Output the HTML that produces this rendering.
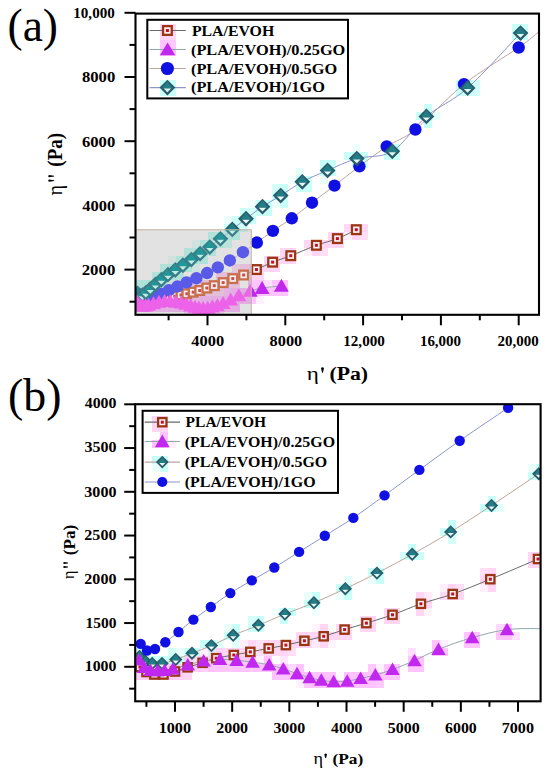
<!DOCTYPE html>
<html><head><meta charset="utf-8"><style>
html,body{margin:0;padding:0;background:#fff;}
body{width:550px;height:773px;overflow:hidden;}
svg{display:block;font-family:"Liberation Serif",serif;}
</style></head><body>
<svg width="550" height="773" viewBox="0 0 550 773">
<rect width="550" height="773" fill="#fff"/>
<rect x="135.5" y="229.3" width="115.8" height="85.5" fill="#e2e2e3"/>
<rect x="160.0" y="24.0" width="8.0" height="8.0" fill="#ffd6f4"/>
<rect x="168.0" y="24.0" width="8.0" height="8.0" fill="#ffd6f4"/>
<rect x="512.0" y="24.0" width="8.0" height="8.0" fill="#c8fff6"/>
<rect x="520.0" y="24.0" width="8.0" height="8.0" fill="#c8fff6"/>
<rect x="160.0" y="32.0" width="8.0" height="8.0" fill="#ffd6f4"/>
<rect x="168.0" y="32.0" width="8.0" height="8.0" fill="#ffd6f4"/>
<rect x="512.0" y="32.0" width="8.0" height="8.0" fill="#c8fff6"/>
<rect x="520.0" y="32.0" width="8.0" height="8.0" fill="#c8fff6"/>
<rect x="160.0" y="40.0" width="8.0" height="8.0" fill="#ffc4ff"/>
<rect x="168.0" y="40.0" width="8.0" height="8.0" fill="#ffc9ff"/>
<rect x="160.0" y="48.0" width="8.0" height="8.0" fill="#ffc4ff"/>
<rect x="168.0" y="48.0" width="8.0" height="8.0" fill="#ffc4ff"/>
<rect x="160.0" y="80.0" width="8.0" height="8.0" fill="#c8fff6"/>
<rect x="168.0" y="80.0" width="8.0" height="8.0" fill="#c8fff6"/>
<rect x="456.0" y="80.0" width="8.0" height="8.0" fill="#c8fff6"/>
<rect x="464.0" y="80.0" width="8.0" height="8.0" fill="#c8fff6"/>
<rect x="472.0" y="80.0" width="8.0" height="8.0" fill="#d4fff8"/>
<rect x="160.0" y="88.0" width="8.0" height="8.0" fill="#c8fff6"/>
<rect x="168.0" y="88.0" width="8.0" height="8.0" fill="#c8fff6"/>
<rect x="456.0" y="88.0" width="8.0" height="8.0" fill="#c8fff6"/>
<rect x="464.0" y="88.0" width="8.0" height="8.0" fill="#c8fff6"/>
<rect x="472.0" y="88.0" width="8.0" height="8.0" fill="#d4fff8"/>
<rect x="424.0" y="104.0" width="8.0" height="8.0" fill="#c8fff6"/>
<rect x="416.0" y="112.0" width="8.0" height="8.0" fill="#c8fff6"/>
<rect x="424.0" y="112.0" width="8.0" height="8.0" fill="#c8fff6"/>
<rect x="432.0" y="112.0" width="8.0" height="8.0" fill="#e2fffa"/>
<rect x="424.0" y="120.0" width="8.0" height="8.0" fill="#c8fff6"/>
<rect x="352.0" y="144.0" width="8.0" height="8.0" fill="#f1fffd"/>
<rect x="384.0" y="144.0" width="8.0" height="8.0" fill="#c8fff6"/>
<rect x="392.0" y="144.0" width="8.0" height="8.0" fill="#c8fff6"/>
<rect x="344.0" y="152.0" width="8.0" height="8.0" fill="#c8fff6"/>
<rect x="352.0" y="152.0" width="8.0" height="8.0" fill="#c8fff6"/>
<rect x="360.0" y="152.0" width="8.0" height="8.0" fill="#c8fff6"/>
<rect x="384.0" y="152.0" width="8.0" height="8.0" fill="#c8fff6"/>
<rect x="392.0" y="152.0" width="8.0" height="8.0" fill="#c8fff6"/>
<rect x="320.0" y="160.0" width="8.0" height="8.0" fill="#c8fff6"/>
<rect x="328.0" y="160.0" width="8.0" height="8.0" fill="#c8fff6"/>
<rect x="352.0" y="160.0" width="8.0" height="8.0" fill="#c8fff6"/>
<rect x="360.0" y="160.0" width="8.0" height="8.0" fill="#d4fff8"/>
<rect x="296.0" y="168.0" width="8.0" height="8.0" fill="#e2fffa"/>
<rect x="320.0" y="168.0" width="8.0" height="8.0" fill="#c8fff6"/>
<rect x="328.0" y="168.0" width="8.0" height="8.0" fill="#c8fff6"/>
<rect x="288.0" y="176.0" width="8.0" height="8.0" fill="#f1fffd"/>
<rect x="296.0" y="176.0" width="8.0" height="8.0" fill="#c8fff6"/>
<rect x="304.0" y="176.0" width="8.0" height="8.0" fill="#c8fff6"/>
<rect x="320.0" y="176.0" width="8.0" height="8.0" fill="#eafffb"/>
<rect x="272.0" y="184.0" width="8.0" height="8.0" fill="#d4fff8"/>
<rect x="280.0" y="184.0" width="8.0" height="8.0" fill="#c8fff6"/>
<rect x="296.0" y="184.0" width="8.0" height="8.0" fill="#c8fff6"/>
<rect x="304.0" y="184.0" width="8.0" height="8.0" fill="#c8fff6"/>
<rect x="272.0" y="192.0" width="8.0" height="8.0" fill="#c8fff6"/>
<rect x="280.0" y="192.0" width="8.0" height="8.0" fill="#c8fff6"/>
<rect x="248.0" y="200.0" width="3.3" height="8.0" fill="#f1fffd"/>
<rect x="251.3" y="200.0" width="4.7" height="8.0" fill="#f1fffd"/>
<rect x="256.0" y="200.0" width="8.0" height="8.0" fill="#c8fff6"/>
<rect x="264.0" y="200.0" width="8.0" height="8.0" fill="#c8fff6"/>
<rect x="272.0" y="200.0" width="8.0" height="8.0" fill="#eafffb"/>
<rect x="280.0" y="200.0" width="8.0" height="8.0" fill="#c8fff6"/>
<rect x="240.0" y="208.0" width="8.0" height="8.0" fill="#c8fff6"/>
<rect x="248.0" y="208.0" width="3.3" height="8.0" fill="#d4fff8"/>
<rect x="251.3" y="208.0" width="4.7" height="8.0" fill="#d4fff8"/>
<rect x="256.0" y="208.0" width="8.0" height="8.0" fill="#c8fff6"/>
<rect x="264.0" y="208.0" width="8.0" height="8.0" fill="#c8fff6"/>
<rect x="224.0" y="216.0" width="8.0" height="8.0" fill="#eafffb"/>
<rect x="232.0" y="216.0" width="8.0" height="8.0" fill="#cdfff7"/>
<rect x="240.0" y="216.0" width="8.0" height="8.0" fill="#c8fff6"/>
<rect x="248.0" y="216.0" width="3.3" height="8.0" fill="#c8fff6"/>
<rect x="251.3" y="216.0" width="4.7" height="8.0" fill="#c8fff6"/>
<rect x="224.0" y="224.0" width="8.0" height="5.3" fill="#c8fff6"/>
<rect x="224.0" y="229.3" width="8.0" height="2.7" fill="#b1e2da"/>
<rect x="232.0" y="224.0" width="8.0" height="5.3" fill="#c8fff6"/>
<rect x="232.0" y="229.3" width="8.0" height="2.7" fill="#b1e2da"/>
<rect x="240.0" y="224.0" width="8.0" height="5.3" fill="#d4fff8"/>
<rect x="240.0" y="229.3" width="8.0" height="2.7" fill="#bce2dc"/>
<rect x="344.0" y="224.0" width="8.0" height="5.3" fill="#ffd6f4"/>
<rect x="344.0" y="229.3" width="8.0" height="2.7" fill="#ffd6f4"/>
<rect x="352.0" y="224.0" width="8.0" height="5.3" fill="#ffd6f4"/>
<rect x="352.0" y="229.3" width="8.0" height="2.7" fill="#ffd6f4"/>
<rect x="360.0" y="224.0" width="8.0" height="5.3" fill="#ffd6f4"/>
<rect x="360.0" y="229.3" width="8.0" height="2.7" fill="#ffd6f4"/>
<rect x="208.0" y="232.0" width="8.0" height="8.0" fill="#b1e2da"/>
<rect x="216.0" y="232.0" width="8.0" height="8.0" fill="#b1e2da"/>
<rect x="224.0" y="232.0" width="8.0" height="8.0" fill="#b1e2da"/>
<rect x="232.0" y="232.0" width="8.0" height="8.0" fill="#b1e2da"/>
<rect x="328.0" y="232.0" width="8.0" height="8.0" fill="#ffd6f4"/>
<rect x="336.0" y="232.0" width="8.0" height="8.0" fill="#ffd6f4"/>
<rect x="344.0" y="232.0" width="8.0" height="8.0" fill="#ffeffb"/>
<rect x="352.0" y="232.0" width="8.0" height="8.0" fill="#ffd6f4"/>
<rect x="360.0" y="232.0" width="8.0" height="8.0" fill="#ffdff6"/>
<rect x="192.0" y="240.0" width="8.0" height="8.0" fill="#cfe2df"/>
<rect x="200.0" y="240.0" width="8.0" height="8.0" fill="#b1e2da"/>
<rect x="208.0" y="240.0" width="8.0" height="8.0" fill="#b1e2da"/>
<rect x="216.0" y="240.0" width="8.0" height="8.0" fill="#b1e2da"/>
<rect x="224.0" y="240.0" width="8.0" height="8.0" fill="#bce2dc"/>
<rect x="304.0" y="240.0" width="8.0" height="8.0" fill="#ffd6f4"/>
<rect x="312.0" y="240.0" width="8.0" height="8.0" fill="#ffd6f4"/>
<rect x="320.0" y="240.0" width="8.0" height="8.0" fill="#ffd6f4"/>
<rect x="328.0" y="240.0" width="8.0" height="8.0" fill="#ffd6f4"/>
<rect x="336.0" y="240.0" width="8.0" height="8.0" fill="#ffd6f4"/>
<rect x="184.0" y="248.0" width="8.0" height="8.0" fill="#b1e2da"/>
<rect x="192.0" y="248.0" width="8.0" height="8.0" fill="#b1e2da"/>
<rect x="200.0" y="248.0" width="8.0" height="8.0" fill="#b1e2da"/>
<rect x="208.0" y="248.0" width="8.0" height="8.0" fill="#b1e2da"/>
<rect x="280.0" y="248.0" width="8.0" height="8.0" fill="#ffd6f4"/>
<rect x="288.0" y="248.0" width="8.0" height="8.0" fill="#ffd6f4"/>
<rect x="304.0" y="248.0" width="8.0" height="8.0" fill="#ffeffb"/>
<rect x="312.0" y="248.0" width="8.0" height="8.0" fill="#ffd6f4"/>
<rect x="320.0" y="248.0" width="8.0" height="8.0" fill="#ffdff6"/>
<rect x="168.0" y="256.0" width="8.0" height="8.0" fill="#cfe2df"/>
<rect x="176.0" y="256.0" width="8.0" height="8.0" fill="#b1e2da"/>
<rect x="184.0" y="256.0" width="8.0" height="8.0" fill="#b1e2da"/>
<rect x="192.0" y="256.0" width="8.0" height="8.0" fill="#b1e2da"/>
<rect x="200.0" y="256.0" width="8.0" height="8.0" fill="#b1e2da"/>
<rect x="264.0" y="256.0" width="8.0" height="8.0" fill="#ffd6f4"/>
<rect x="272.0" y="256.0" width="8.0" height="8.0" fill="#ffd6f4"/>
<rect x="280.0" y="256.0" width="8.0" height="8.0" fill="#ffd6f4"/>
<rect x="288.0" y="256.0" width="8.0" height="8.0" fill="#ffd6f4"/>
<rect x="160.0" y="264.0" width="8.0" height="8.0" fill="#b1e2da"/>
<rect x="168.0" y="264.0" width="8.0" height="8.0" fill="#b1e2da"/>
<rect x="176.0" y="264.0" width="8.0" height="8.0" fill="#b1e2da"/>
<rect x="184.0" y="264.0" width="8.0" height="8.0" fill="#b1e2da"/>
<rect x="192.0" y="264.0" width="8.0" height="8.0" fill="#cfe2df"/>
<rect x="232.0" y="264.0" width="8.0" height="8.0" fill="#e2c6da"/>
<rect x="240.0" y="264.0" width="8.0" height="8.0" fill="#e2bed8"/>
<rect x="248.0" y="264.0" width="3.3" height="8.0" fill="#e2bed8"/>
<rect x="251.3" y="264.0" width="4.7" height="8.0" fill="#ffd6f4"/>
<rect x="256.0" y="264.0" width="8.0" height="8.0" fill="#ffd6f4"/>
<rect x="264.0" y="264.0" width="8.0" height="8.0" fill="#ffd6f4"/>
<rect x="272.0" y="264.0" width="8.0" height="8.0" fill="#ffd6f4"/>
<rect x="152.0" y="272.0" width="8.0" height="8.0" fill="#b1e2da"/>
<rect x="160.0" y="272.0" width="8.0" height="8.0" fill="#b1e2da"/>
<rect x="168.0" y="272.0" width="8.0" height="8.0" fill="#b1e2da"/>
<rect x="176.0" y="272.0" width="8.0" height="8.0" fill="#b1e2da"/>
<rect x="216.0" y="272.0" width="8.0" height="8.0" fill="#e2bed8"/>
<rect x="224.0" y="272.0" width="8.0" height="8.0" fill="#e2bed8"/>
<rect x="232.0" y="272.0" width="8.0" height="8.0" fill="#e2bed8"/>
<rect x="240.0" y="272.0" width="8.0" height="8.0" fill="#e2bed8"/>
<rect x="248.0" y="272.0" width="3.3" height="8.0" fill="#e2bed8"/>
<rect x="251.3" y="272.0" width="4.7" height="8.0" fill="#ffd6f4"/>
<rect x="256.0" y="272.0" width="8.0" height="8.0" fill="#ffd6f4"/>
<rect x="136.0" y="280.0" width="8.0" height="8.0" fill="#b1e2da"/>
<rect x="144.0" y="280.0" width="8.0" height="8.0" fill="#b1e2da"/>
<rect x="152.0" y="280.0" width="8.0" height="8.0" fill="#b1e2da"/>
<rect x="160.0" y="280.0" width="8.0" height="8.0" fill="#b1e2da"/>
<rect x="168.0" y="280.0" width="8.0" height="8.0" fill="#cfe2df"/>
<rect x="184.0" y="280.0" width="8.0" height="8.0" fill="#e2cfdd"/>
<rect x="192.0" y="280.0" width="8.0" height="8.0" fill="#e2bed8"/>
<rect x="200.0" y="280.0" width="8.0" height="8.0" fill="#e2bed8"/>
<rect x="208.0" y="280.0" width="8.0" height="8.0" fill="#e2bed8"/>
<rect x="216.0" y="280.0" width="8.0" height="8.0" fill="#e2bed8"/>
<rect x="224.0" y="280.0" width="8.0" height="8.0" fill="#e2bed8"/>
<rect x="232.0" y="280.0" width="8.0" height="8.0" fill="#e2bed8"/>
<rect x="248.0" y="280.0" width="3.3" height="8.0" fill="#e2aee2"/>
<rect x="251.3" y="280.0" width="4.7" height="8.0" fill="#ffc4ff"/>
<rect x="256.0" y="280.0" width="8.0" height="8.0" fill="#ffc4ff"/>
<rect x="264.0" y="280.0" width="8.0" height="8.0" fill="#ffe0ff"/>
<rect x="272.0" y="280.0" width="8.0" height="8.0" fill="#ffc4ff"/>
<rect x="280.0" y="280.0" width="8.0" height="8.0" fill="#ffc4ff"/>
<rect x="135.5" y="288.0" width="0.5" height="8.0" fill="#b1e2da"/>
<rect x="136.0" y="288.0" width="8.0" height="8.0" fill="#b2e1da"/>
<rect x="144.0" y="288.0" width="8.0" height="8.0" fill="#b1e2da"/>
<rect x="152.0" y="288.0" width="8.0" height="8.0" fill="#c0d7da"/>
<rect x="160.0" y="288.0" width="8.0" height="8.0" fill="#e2bdd9"/>
<rect x="168.0" y="288.0" width="8.0" height="8.0" fill="#e2bdd9"/>
<rect x="176.0" y="288.0" width="8.0" height="8.0" fill="#e2bed8"/>
<rect x="184.0" y="288.0" width="8.0" height="8.0" fill="#e2bed8"/>
<rect x="192.0" y="288.0" width="8.0" height="8.0" fill="#e2bed8"/>
<rect x="200.0" y="288.0" width="8.0" height="8.0" fill="#e2bed8"/>
<rect x="208.0" y="288.0" width="8.0" height="8.0" fill="#e2bed8"/>
<rect x="216.0" y="288.0" width="8.0" height="8.0" fill="#e2bed8"/>
<rect x="224.0" y="288.0" width="8.0" height="8.0" fill="#e2b2e2"/>
<rect x="232.0" y="288.0" width="8.0" height="8.0" fill="#e2aee2"/>
<rect x="240.0" y="288.0" width="8.0" height="8.0" fill="#e2aee2"/>
<rect x="248.0" y="288.0" width="3.3" height="8.0" fill="#e2aee2"/>
<rect x="251.3" y="288.0" width="4.7" height="8.0" fill="#ffc4ff"/>
<rect x="256.0" y="288.0" width="8.0" height="8.0" fill="#ffc4ff"/>
<rect x="264.0" y="288.0" width="8.0" height="8.0" fill="#ffc4ff"/>
<rect x="272.0" y="288.0" width="8.0" height="8.0" fill="#ffc4ff"/>
<rect x="280.0" y="288.0" width="8.0" height="8.0" fill="#ffc4ff"/>
<rect x="135.5" y="296.0" width="0.5" height="8.0" fill="#dabedc"/>
<rect x="136.0" y="296.0" width="8.0" height="8.0" fill="#d3c4dc"/>
<rect x="144.0" y="296.0" width="8.0" height="8.0" fill="#d9bfdc"/>
<rect x="152.0" y="296.0" width="8.0" height="8.0" fill="#e2b7dd"/>
<rect x="160.0" y="296.0" width="8.0" height="8.0" fill="#e2b6dd"/>
<rect x="168.0" y="296.0" width="8.0" height="8.0" fill="#e2b6dd"/>
<rect x="176.0" y="296.0" width="8.0" height="8.0" fill="#e2b5de"/>
<rect x="184.0" y="296.0" width="8.0" height="8.0" fill="#e2b4de"/>
<rect x="192.0" y="296.0" width="8.0" height="8.0" fill="#e2b5de"/>
<rect x="200.0" y="296.0" width="8.0" height="8.0" fill="#e2aee2"/>
<rect x="208.0" y="296.0" width="8.0" height="8.0" fill="#e2aee2"/>
<rect x="216.0" y="296.0" width="8.0" height="8.0" fill="#e2aee2"/>
<rect x="224.0" y="296.0" width="8.0" height="8.0" fill="#e2aee2"/>
<rect x="232.0" y="296.0" width="8.0" height="8.0" fill="#e2aee2"/>
<rect x="240.0" y="296.0" width="8.0" height="8.0" fill="#e2aee2"/>
<rect x="248.0" y="296.0" width="3.3" height="8.0" fill="#e2aee2"/>
<rect x="251.3" y="296.0" width="4.7" height="8.0" fill="#ffc4ff"/>
<rect x="256.0" y="296.0" width="8.0" height="8.0" fill="#fff0ff"/>
<rect x="135.5" y="304.0" width="0.5" height="8.0" fill="#e2b4de"/>
<rect x="136.0" y="304.0" width="8.0" height="8.0" fill="#e2b4de"/>
<rect x="144.0" y="304.0" width="8.0" height="8.0" fill="#e2b5de"/>
<rect x="152.0" y="304.0" width="8.0" height="8.0" fill="#e2b4de"/>
<rect x="160.0" y="304.0" width="8.0" height="8.0" fill="#e2b1e0"/>
<rect x="168.0" y="304.0" width="8.0" height="8.0" fill="#e2aee2"/>
<rect x="176.0" y="304.0" width="8.0" height="8.0" fill="#e2aee2"/>
<rect x="184.0" y="304.0" width="8.0" height="8.0" fill="#e2aee2"/>
<rect x="192.0" y="304.0" width="8.0" height="8.0" fill="#e2aee2"/>
<rect x="200.0" y="304.0" width="8.0" height="8.0" fill="#e2aee2"/>
<rect x="208.0" y="304.0" width="8.0" height="8.0" fill="#e2aee2"/>
<rect x="216.0" y="304.0" width="8.0" height="8.0" fill="#e2aee2"/>
<rect x="224.0" y="304.0" width="8.0" height="8.0" fill="#e2aee2"/>
<rect x="232.0" y="304.0" width="8.0" height="8.0" fill="#e2aee2"/>
<rect x="184.0" y="312.0" width="8.0" height="2.8" fill="#e2c0e2"/>
<rect x="192.0" y="312.0" width="8.0" height="2.8" fill="#e2aee2"/>
<rect x="200.0" y="312.0" width="8.0" height="2.8" fill="#e2aee2"/>
<rect x="208.0" y="312.0" width="8.0" height="2.8" fill="#e2aee2"/>
<rect x="216.0" y="312.0" width="8.0" height="2.8" fill="#e2c7e2"/>
<rect x="152.0" y="416.0" width="8.0" height="8.0" fill="#ffd6f4"/>
<rect x="160.0" y="416.0" width="8.0" height="8.0" fill="#ffd6f4"/>
<rect x="152.0" y="424.0" width="8.0" height="8.0" fill="#ffd6f4"/>
<rect x="160.0" y="424.0" width="8.0" height="8.0" fill="#ffd6f4"/>
<rect x="160.0" y="432.0" width="8.0" height="8.0" fill="#ffc4ff"/>
<rect x="152.0" y="440.0" width="8.0" height="8.0" fill="#ffc4ff"/>
<rect x="160.0" y="440.0" width="8.0" height="8.0" fill="#ffc4ff"/>
<rect x="168.0" y="440.0" width="8.0" height="8.0" fill="#fff0ff"/>
<rect x="152.0" y="456.0" width="8.0" height="8.0" fill="#c8fff6"/>
<rect x="160.0" y="456.0" width="8.0" height="8.0" fill="#c8fff6"/>
<rect x="152.0" y="464.0" width="8.0" height="8.0" fill="#eafffb"/>
<rect x="160.0" y="464.0" width="8.0" height="8.0" fill="#c8fff6"/>
<rect x="528.0" y="464.0" width="8.0" height="8.0" fill="#eafffb"/>
<rect x="536.0" y="464.0" width="4.6" height="8.0" fill="#c8fff6"/>
<rect x="528.0" y="472.0" width="8.0" height="8.0" fill="#c8fff6"/>
<rect x="536.0" y="472.0" width="4.6" height="8.0" fill="#c8fff6"/>
<rect x="488.0" y="496.0" width="8.0" height="8.0" fill="#c8fff6"/>
<rect x="480.0" y="504.0" width="8.0" height="8.0" fill="#c8fff6"/>
<rect x="488.0" y="504.0" width="8.0" height="8.0" fill="#c8fff6"/>
<rect x="496.0" y="504.0" width="8.0" height="8.0" fill="#e2fffa"/>
<rect x="448.0" y="520.0" width="8.0" height="8.0" fill="#c8fff6"/>
<rect x="440.0" y="528.0" width="8.0" height="8.0" fill="#c8fff6"/>
<rect x="448.0" y="528.0" width="8.0" height="8.0" fill="#c8fff6"/>
<rect x="456.0" y="528.0" width="8.0" height="8.0" fill="#f1fffd"/>
<rect x="448.0" y="536.0" width="8.0" height="8.0" fill="#d4fff8"/>
<rect x="408.0" y="544.0" width="8.0" height="8.0" fill="#c8fff6"/>
<rect x="400.0" y="552.0" width="8.0" height="8.0" fill="#d4fff8"/>
<rect x="408.0" y="552.0" width="8.0" height="8.0" fill="#c8fff6"/>
<rect x="416.0" y="552.0" width="8.0" height="8.0" fill="#c8fff6"/>
<rect x="528.0" y="552.0" width="8.0" height="8.0" fill="#ffd6f4"/>
<rect x="536.0" y="552.0" width="4.6" height="8.0" fill="#ffd6f4"/>
<rect x="376.0" y="560.0" width="8.0" height="8.0" fill="#f1fffd"/>
<rect x="528.0" y="560.0" width="8.0" height="8.0" fill="#ffd6f4"/>
<rect x="536.0" y="560.0" width="4.6" height="8.0" fill="#ffd6f4"/>
<rect x="368.0" y="568.0" width="8.0" height="8.0" fill="#c8fff6"/>
<rect x="376.0" y="568.0" width="8.0" height="8.0" fill="#c8fff6"/>
<rect x="480.0" y="568.0" width="8.0" height="8.0" fill="#ffdff6"/>
<rect x="488.0" y="568.0" width="8.0" height="8.0" fill="#ffd6f4"/>
<rect x="344.0" y="576.0" width="8.0" height="8.0" fill="#e2fffa"/>
<rect x="368.0" y="576.0" width="8.0" height="8.0" fill="#eafffb"/>
<rect x="376.0" y="576.0" width="8.0" height="8.0" fill="#c8fff6"/>
<rect x="480.0" y="576.0" width="8.0" height="8.0" fill="#ffd6f4"/>
<rect x="488.0" y="576.0" width="8.0" height="8.0" fill="#ffd6f4"/>
<rect x="336.0" y="584.0" width="8.0" height="8.0" fill="#c8fff6"/>
<rect x="344.0" y="584.0" width="8.0" height="8.0" fill="#c8fff6"/>
<rect x="440.0" y="584.0" width="8.0" height="8.0" fill="#ffeffb"/>
<rect x="448.0" y="584.0" width="8.0" height="8.0" fill="#ffd6f4"/>
<rect x="456.0" y="584.0" width="8.0" height="8.0" fill="#ffdff6"/>
<rect x="480.0" y="584.0" width="8.0" height="8.0" fill="#ffeffb"/>
<rect x="488.0" y="584.0" width="8.0" height="8.0" fill="#ffd6f4"/>
<rect x="304.0" y="592.0" width="8.0" height="8.0" fill="#eafffb"/>
<rect x="312.0" y="592.0" width="8.0" height="8.0" fill="#c8fff6"/>
<rect x="336.0" y="592.0" width="8.0" height="8.0" fill="#eafffb"/>
<rect x="344.0" y="592.0" width="8.0" height="8.0" fill="#c8fff6"/>
<rect x="416.0" y="592.0" width="8.0" height="8.0" fill="#ffd6f4"/>
<rect x="424.0" y="592.0" width="8.0" height="8.0" fill="#ffeaf9"/>
<rect x="440.0" y="592.0" width="8.0" height="8.0" fill="#ffdaf5"/>
<rect x="448.0" y="592.0" width="8.0" height="8.0" fill="#ffd6f4"/>
<rect x="456.0" y="592.0" width="8.0" height="8.0" fill="#ffd6f4"/>
<rect x="304.0" y="600.0" width="8.0" height="8.0" fill="#c8fff6"/>
<rect x="312.0" y="600.0" width="8.0" height="8.0" fill="#c8fff6"/>
<rect x="416.0" y="600.0" width="8.0" height="8.0" fill="#ffd6f4"/>
<rect x="424.0" y="600.0" width="8.0" height="8.0" fill="#ffd6f4"/>
<rect x="272.0" y="608.0" width="8.0" height="8.0" fill="#f1fffd"/>
<rect x="280.0" y="608.0" width="8.0" height="8.0" fill="#c8fff6"/>
<rect x="288.0" y="608.0" width="8.0" height="8.0" fill="#c8fff6"/>
<rect x="312.0" y="608.0" width="8.0" height="8.0" fill="#f1fffd"/>
<rect x="384.0" y="608.0" width="8.0" height="8.0" fill="#ffd6f4"/>
<rect x="392.0" y="608.0" width="8.0" height="8.0" fill="#ffd6f4"/>
<rect x="416.0" y="608.0" width="8.0" height="8.0" fill="#ffd6f4"/>
<rect x="424.0" y="608.0" width="8.0" height="8.0" fill="#fff4fc"/>
<rect x="248.0" y="616.0" width="3.3" height="8.0" fill="#d4fff8"/>
<rect x="251.3" y="616.0" width="4.7" height="8.0" fill="#d4fff8"/>
<rect x="256.0" y="616.0" width="8.0" height="8.0" fill="#c8fff6"/>
<rect x="280.0" y="616.0" width="8.0" height="8.0" fill="#c8fff6"/>
<rect x="360.0" y="616.0" width="8.0" height="8.0" fill="#ffd6f4"/>
<rect x="368.0" y="616.0" width="8.0" height="8.0" fill="#ffd6f4"/>
<rect x="384.0" y="616.0" width="8.0" height="8.0" fill="#ffd6f4"/>
<rect x="392.0" y="616.0" width="8.0" height="8.0" fill="#ffd6f4"/>
<rect x="224.0" y="624.0" width="8.0" height="8.0" fill="#eafffb"/>
<rect x="232.0" y="624.0" width="8.0" height="8.0" fill="#c8fff6"/>
<rect x="248.0" y="624.0" width="3.3" height="8.0" fill="#c8fff6"/>
<rect x="251.3" y="624.0" width="4.7" height="8.0" fill="#c8fff6"/>
<rect x="256.0" y="624.0" width="8.0" height="8.0" fill="#c8fff6"/>
<rect x="312.0" y="624.0" width="8.0" height="8.0" fill="#fff4fc"/>
<rect x="320.0" y="624.0" width="8.0" height="8.0" fill="#ffd6f4"/>
<rect x="336.0" y="624.0" width="8.0" height="8.0" fill="#ffd6f4"/>
<rect x="344.0" y="624.0" width="8.0" height="8.0" fill="#ffd6f4"/>
<rect x="360.0" y="624.0" width="8.0" height="8.0" fill="#ffd6f4"/>
<rect x="368.0" y="624.0" width="8.0" height="8.0" fill="#ffd6f4"/>
<rect x="496.0" y="624.0" width="8.0" height="8.0" fill="#ffd9ff"/>
<rect x="504.0" y="624.0" width="8.0" height="8.0" fill="#ffc4ff"/>
<rect x="224.0" y="632.0" width="8.0" height="8.0" fill="#c8fff6"/>
<rect x="232.0" y="632.0" width="8.0" height="8.0" fill="#c8fff6"/>
<rect x="296.0" y="632.0" width="8.0" height="8.0" fill="#ffd6f4"/>
<rect x="304.0" y="632.0" width="8.0" height="8.0" fill="#ffd6f4"/>
<rect x="312.0" y="632.0" width="8.0" height="8.0" fill="#ffd6f4"/>
<rect x="320.0" y="632.0" width="8.0" height="8.0" fill="#ffd6f4"/>
<rect x="328.0" y="632.0" width="8.0" height="8.0" fill="#ffd6f4"/>
<rect x="336.0" y="632.0" width="8.0" height="8.0" fill="#ffd6f4"/>
<rect x="344.0" y="632.0" width="8.0" height="8.0" fill="#ffd6f4"/>
<rect x="464.0" y="632.0" width="8.0" height="8.0" fill="#ffc4ff"/>
<rect x="472.0" y="632.0" width="8.0" height="8.0" fill="#ffc4ff"/>
<rect x="496.0" y="632.0" width="8.0" height="8.0" fill="#ffc4ff"/>
<rect x="504.0" y="632.0" width="8.0" height="8.0" fill="#ffc4ff"/>
<rect x="512.0" y="632.0" width="8.0" height="8.0" fill="#ffe0ff"/>
<rect x="200.0" y="640.0" width="8.0" height="8.0" fill="#c8fff6"/>
<rect x="208.0" y="640.0" width="8.0" height="8.0" fill="#c8fff6"/>
<rect x="216.0" y="640.0" width="8.0" height="8.0" fill="#e2fffa"/>
<rect x="232.0" y="640.0" width="8.0" height="8.0" fill="#e2fffa"/>
<rect x="240.0" y="640.0" width="8.0" height="8.0" fill="#ffeffb"/>
<rect x="248.0" y="640.0" width="3.3" height="8.0" fill="#ffd6f4"/>
<rect x="251.3" y="640.0" width="4.7" height="8.0" fill="#ffd6f4"/>
<rect x="256.0" y="640.0" width="8.0" height="8.0" fill="#ffe4f8"/>
<rect x="264.0" y="640.0" width="8.0" height="8.0" fill="#ffd6f4"/>
<rect x="272.0" y="640.0" width="8.0" height="8.0" fill="#ffd6f4"/>
<rect x="280.0" y="640.0" width="8.0" height="8.0" fill="#ffd6f4"/>
<rect x="288.0" y="640.0" width="8.0" height="8.0" fill="#ffd6f4"/>
<rect x="296.0" y="640.0" width="8.0" height="8.0" fill="#ffd6f4"/>
<rect x="304.0" y="640.0" width="8.0" height="8.0" fill="#ffd6f4"/>
<rect x="312.0" y="640.0" width="8.0" height="8.0" fill="#ffeaf9"/>
<rect x="320.0" y="640.0" width="8.0" height="8.0" fill="#ffd6f4"/>
<rect x="328.0" y="640.0" width="8.0" height="8.0" fill="#fff4fc"/>
<rect x="432.0" y="640.0" width="8.0" height="8.0" fill="#ffc4ff"/>
<rect x="440.0" y="640.0" width="8.0" height="8.0" fill="#fff0ff"/>
<rect x="464.0" y="640.0" width="8.0" height="8.0" fill="#ffc4ff"/>
<rect x="472.0" y="640.0" width="8.0" height="8.0" fill="#ffc4ff"/>
<rect x="135.2" y="648.0" width="0.3" height="8.0" fill="#f1fffd"/>
<rect x="135.5" y="648.0" width="0.5" height="8.0" fill="#f1fffd"/>
<rect x="136.0" y="648.0" width="8.0" height="8.0" fill="#cef8f7"/>
<rect x="144.0" y="648.0" width="8.0" height="8.0" fill="#f1fffd"/>
<rect x="168.0" y="648.0" width="8.0" height="8.0" fill="#d4fff8"/>
<rect x="176.0" y="648.0" width="8.0" height="8.0" fill="#eafffb"/>
<rect x="184.0" y="648.0" width="8.0" height="8.0" fill="#c8fff6"/>
<rect x="192.0" y="648.0" width="8.0" height="8.0" fill="#c8fff6"/>
<rect x="200.0" y="648.0" width="8.0" height="8.0" fill="#fff0ff"/>
<rect x="208.0" y="648.0" width="8.0" height="8.0" fill="#e3ebf5"/>
<rect x="216.0" y="648.0" width="8.0" height="8.0" fill="#ffd0f8"/>
<rect x="224.0" y="648.0" width="8.0" height="8.0" fill="#ffd6f4"/>
<rect x="232.0" y="648.0" width="8.0" height="8.0" fill="#ffd4f5"/>
<rect x="240.0" y="648.0" width="8.0" height="8.0" fill="#ffd6f4"/>
<rect x="248.0" y="648.0" width="3.3" height="8.0" fill="#ffd6f4"/>
<rect x="251.3" y="648.0" width="4.7" height="8.0" fill="#ffd6f4"/>
<rect x="256.0" y="648.0" width="8.0" height="8.0" fill="#ffdff6"/>
<rect x="264.0" y="648.0" width="8.0" height="8.0" fill="#ffd6f4"/>
<rect x="272.0" y="648.0" width="8.0" height="8.0" fill="#ffd6f4"/>
<rect x="280.0" y="648.0" width="8.0" height="8.0" fill="#ffd6f4"/>
<rect x="288.0" y="648.0" width="8.0" height="8.0" fill="#ffdff6"/>
<rect x="408.0" y="648.0" width="8.0" height="8.0" fill="#ffe0ff"/>
<rect x="432.0" y="648.0" width="8.0" height="8.0" fill="#ffc4ff"/>
<rect x="440.0" y="648.0" width="8.0" height="8.0" fill="#ffc4ff"/>
<rect x="135.2" y="656.0" width="0.3" height="8.0" fill="#eed9fa"/>
<rect x="135.5" y="656.0" width="0.5" height="8.0" fill="#eed9fa"/>
<rect x="136.0" y="656.0" width="8.0" height="8.0" fill="#e7e0fa"/>
<rect x="144.0" y="656.0" width="8.0" height="8.0" fill="#cdfaf7"/>
<rect x="152.0" y="656.0" width="8.0" height="8.0" fill="#c8fff6"/>
<rect x="160.0" y="656.0" width="8.0" height="8.0" fill="#c8fff6"/>
<rect x="168.0" y="656.0" width="8.0" height="8.0" fill="#cbfcf6"/>
<rect x="176.0" y="656.0" width="8.0" height="8.0" fill="#cefaf6"/>
<rect x="184.0" y="656.0" width="8.0" height="8.0" fill="#f7d3fa"/>
<rect x="192.0" y="656.0" width="8.0" height="8.0" fill="#f5dbf6"/>
<rect x="200.0" y="656.0" width="8.0" height="8.0" fill="#ffcef9"/>
<rect x="208.0" y="656.0" width="8.0" height="8.0" fill="#ffd3f6"/>
<rect x="216.0" y="656.0" width="8.0" height="8.0" fill="#ffcbfa"/>
<rect x="224.0" y="656.0" width="8.0" height="8.0" fill="#ffcff8"/>
<rect x="232.0" y="656.0" width="8.0" height="8.0" fill="#ffcafb"/>
<rect x="240.0" y="656.0" width="8.0" height="8.0" fill="#ffcafb"/>
<rect x="248.0" y="656.0" width="3.3" height="8.0" fill="#ffc7fd"/>
<rect x="251.3" y="656.0" width="4.7" height="8.0" fill="#ffc7fd"/>
<rect x="256.0" y="656.0" width="8.0" height="8.0" fill="#fff0ff"/>
<rect x="264.0" y="656.0" width="8.0" height="8.0" fill="#ffc4ff"/>
<rect x="280.0" y="656.0" width="8.0" height="8.0" fill="#ffe8ff"/>
<rect x="408.0" y="656.0" width="8.0" height="8.0" fill="#ffc4ff"/>
<rect x="416.0" y="656.0" width="8.0" height="8.0" fill="#ffc4ff"/>
<rect x="135.2" y="664.0" width="0.3" height="8.0" fill="#ffd2f6"/>
<rect x="135.5" y="664.0" width="0.5" height="8.0" fill="#ffd2f6"/>
<rect x="136.0" y="664.0" width="8.0" height="8.0" fill="#fed0f8"/>
<rect x="144.0" y="664.0" width="8.0" height="8.0" fill="#f2d8f9"/>
<rect x="152.0" y="664.0" width="8.0" height="8.0" fill="#eedbf9"/>
<rect x="160.0" y="664.0" width="8.0" height="8.0" fill="#eddcf9"/>
<rect x="168.0" y="664.0" width="8.0" height="8.0" fill="#fdcefa"/>
<rect x="176.0" y="664.0" width="8.0" height="8.0" fill="#fed2f7"/>
<rect x="184.0" y="664.0" width="8.0" height="8.0" fill="#ffcef9"/>
<rect x="192.0" y="664.0" width="8.0" height="8.0" fill="#ffcef9"/>
<rect x="200.0" y="664.0" width="8.0" height="8.0" fill="#ffcef9"/>
<rect x="208.0" y="664.0" width="8.0" height="8.0" fill="#ffc4ff"/>
<rect x="216.0" y="664.0" width="8.0" height="8.0" fill="#ffc4ff"/>
<rect x="224.0" y="664.0" width="8.0" height="8.0" fill="#ffc9ff"/>
<rect x="232.0" y="664.0" width="8.0" height="8.0" fill="#ffc4ff"/>
<rect x="240.0" y="664.0" width="8.0" height="8.0" fill="#ffc4ff"/>
<rect x="248.0" y="664.0" width="3.3" height="8.0" fill="#ffc4ff"/>
<rect x="251.3" y="664.0" width="4.7" height="8.0" fill="#ffc4ff"/>
<rect x="256.0" y="664.0" width="8.0" height="8.0" fill="#ffc4ff"/>
<rect x="264.0" y="664.0" width="8.0" height="8.0" fill="#ffc4ff"/>
<rect x="272.0" y="664.0" width="8.0" height="8.0" fill="#ffc4ff"/>
<rect x="280.0" y="664.0" width="8.0" height="8.0" fill="#ffc4ff"/>
<rect x="288.0" y="664.0" width="8.0" height="8.0" fill="#ffd9ff"/>
<rect x="296.0" y="664.0" width="8.0" height="8.0" fill="#ffc4ff"/>
<rect x="368.0" y="664.0" width="8.0" height="8.0" fill="#ffc9ff"/>
<rect x="376.0" y="664.0" width="8.0" height="8.0" fill="#fff0ff"/>
<rect x="384.0" y="664.0" width="8.0" height="8.0" fill="#ffc4ff"/>
<rect x="392.0" y="664.0" width="8.0" height="8.0" fill="#ffc4ff"/>
<rect x="408.0" y="664.0" width="8.0" height="8.0" fill="#ffc4ff"/>
<rect x="416.0" y="664.0" width="8.0" height="8.0" fill="#ffc4ff"/>
<rect x="136.0" y="672.0" width="8.0" height="8.0" fill="#ffd0f8"/>
<rect x="144.0" y="672.0" width="8.0" height="8.0" fill="#ffcff8"/>
<rect x="152.0" y="672.0" width="8.0" height="8.0" fill="#ffcff8"/>
<rect x="160.0" y="672.0" width="8.0" height="8.0" fill="#ffcff8"/>
<rect x="168.0" y="672.0" width="8.0" height="8.0" fill="#ffcff8"/>
<rect x="176.0" y="672.0" width="8.0" height="8.0" fill="#ffd2f7"/>
<rect x="184.0" y="672.0" width="8.0" height="8.0" fill="#ffd6f4"/>
<rect x="272.0" y="672.0" width="8.0" height="8.0" fill="#ffc4ff"/>
<rect x="280.0" y="672.0" width="8.0" height="8.0" fill="#ffc4ff"/>
<rect x="288.0" y="672.0" width="8.0" height="8.0" fill="#ffc4ff"/>
<rect x="296.0" y="672.0" width="8.0" height="8.0" fill="#ffc4ff"/>
<rect x="304.0" y="672.0" width="8.0" height="8.0" fill="#ffc4ff"/>
<rect x="312.0" y="672.0" width="8.0" height="8.0" fill="#ffc4ff"/>
<rect x="320.0" y="672.0" width="8.0" height="8.0" fill="#ffc4ff"/>
<rect x="328.0" y="672.0" width="8.0" height="8.0" fill="#ffc4ff"/>
<rect x="344.0" y="672.0" width="8.0" height="8.0" fill="#ffc4ff"/>
<rect x="352.0" y="672.0" width="8.0" height="8.0" fill="#ffc4ff"/>
<rect x="360.0" y="672.0" width="8.0" height="8.0" fill="#ffc4ff"/>
<rect x="368.0" y="672.0" width="8.0" height="8.0" fill="#ffc4ff"/>
<rect x="376.0" y="672.0" width="8.0" height="8.0" fill="#ffc4ff"/>
<rect x="384.0" y="672.0" width="8.0" height="8.0" fill="#ffc4ff"/>
<rect x="392.0" y="672.0" width="8.0" height="8.0" fill="#ffc4ff"/>
<rect x="296.0" y="680.0" width="8.0" height="8.0" fill="#fff0ff"/>
<rect x="304.0" y="680.0" width="8.0" height="8.0" fill="#ffc4ff"/>
<rect x="312.0" y="680.0" width="8.0" height="8.0" fill="#ffc4ff"/>
<rect x="320.0" y="680.0" width="8.0" height="8.0" fill="#ffc4ff"/>
<rect x="328.0" y="680.0" width="8.0" height="8.0" fill="#ffc4ff"/>
<rect x="336.0" y="680.0" width="8.0" height="8.0" fill="#ffc4ff"/>
<rect x="344.0" y="680.0" width="8.0" height="8.0" fill="#ffc4ff"/>
<rect x="352.0" y="680.0" width="8.0" height="8.0" fill="#ffc4ff"/>
<rect x="360.0" y="680.0" width="8.0" height="8.0" fill="#ffc4ff"/>
<rect x="368.0" y="680.0" width="8.0" height="8.0" fill="#ffc4ff"/>
<rect x="376.0" y="680.0" width="8.0" height="8.0" fill="#ffc9ff"/>
<defs>
<clipPath id="ca"><rect x="135.5" y="13.6" width="403.5" height="301.2"/></clipPath>
<clipPath id="caout"><path clip-rule="evenodd" d="M135.5,13.6 H539.0 V314.8 H135.5 Z M135.5,229.3 H251.3 V317.8 H135.5 Z"/></clipPath>
<clipPath id="cain"><rect x="135.5" y="229.3" width="115.8" height="85.5"/></clipPath>
</defs>
<g clip-path="url(#caout)">
<path d="M137.24,301.77 C137.61,302.08 138.64,303.15 139.45,303.61 C140.27,304.07 141.18,304.37 142.14,304.52 C143.11,304.68 144.07,304.71 145.24,304.52 C146.41,304.34 147.78,303.86 149.15,303.42 C150.52,302.98 151.87,302.42 153.44,301.88 C155.00,301.35 156.92,300.79 158.54,300.23 C160.16,299.68 161.40,299.02 163.17,298.55 C164.94,298.07 167.22,297.76 169.15,297.37 C171.09,296.99 172.79,296.64 174.77,296.23 C176.75,295.83 179.01,295.37 181.03,294.95 C183.05,294.53 184.86,294.20 186.88,293.74 C188.90,293.27 191.03,292.70 193.17,292.16 C195.32,291.62 197.46,291.20 199.74,290.51 C202.02,289.83 204.43,288.86 206.85,288.05 C209.27,287.25 211.55,286.57 214.27,285.67 C216.98,284.76 220.06,283.80 223.15,282.62 C226.24,281.44 229.40,279.86 232.81,278.59 C236.22,277.32 239.69,276.50 243.63,274.99 C247.56,273.49 251.58,271.70 256.42,269.56 C261.26,267.42 266.92,264.46 272.65,262.15 C278.38,259.84 283.51,258.51 290.80,255.70 C298.09,252.89 308.63,248.15 316.40,245.30 C324.17,242.45 330.75,241.20 337.40,238.60 C344.05,236.00 353.15,231.18 356.30,229.70" fill="none" stroke="#6a6a6a" stroke-width="1"/>
<path d="M136.90,301.71 C137.20,302.16 138.02,303.81 138.67,304.46 C139.32,305.10 140.06,305.34 140.81,305.56 C141.57,305.77 142.40,305.74 143.20,305.74 C143.99,305.74 144.70,305.69 145.58,305.56 C146.46,305.42 147.15,305.30 148.47,304.93 C149.79,304.57 151.77,303.89 153.50,303.37 C155.24,302.85 157.05,302.21 158.88,301.83 C160.71,301.44 162.62,301.18 164.49,301.08 C166.36,300.99 168.26,301.14 170.11,301.26 C171.95,301.38 173.70,301.58 175.55,301.80 C177.40,302.03 179.46,302.24 181.20,302.60 C182.94,302.96 184.42,303.48 186.00,303.97 C187.57,304.46 189.16,305.07 190.66,305.57 C192.15,306.06 193.56,306.55 194.94,306.91 C196.32,307.28 197.56,307.55 198.92,307.76 C200.29,307.96 201.67,308.13 203.14,308.15 C204.61,308.17 206.21,308.12 207.73,307.88 C209.26,307.63 210.69,307.11 212.29,306.69 C213.89,306.26 215.52,305.93 217.33,305.34 C219.14,304.75 220.93,304.10 223.15,303.16 C225.36,302.22 228.02,300.99 230.63,299.69 C233.24,298.38 235.52,296.76 238.80,295.31 C242.07,293.86 246.38,292.20 250.26,290.99 C254.15,289.78 256.91,288.90 262.10,288.05 C267.29,287.20 278.18,286.26 281.40,285.90" fill="none" stroke="#8fa8a8" stroke-width="1"/>
<path d="M137.07,297.92 C137.41,298.23 138.39,299.33 139.11,299.76 C139.83,300.18 140.46,300.37 141.39,300.49 C142.33,300.61 143.39,300.73 144.73,300.49 C146.06,300.24 147.69,299.65 149.39,299.02 C151.09,298.39 152.91,297.56 154.93,296.71 C156.96,295.86 159.20,295.02 161.53,293.92 C163.87,292.83 166.29,291.39 168.95,290.14 C171.62,288.90 174.59,287.77 177.52,286.48 C180.46,285.18 183.39,283.74 186.54,282.37 C189.69,280.99 192.98,279.77 196.41,278.22 C199.83,276.67 203.52,274.86 207.09,273.05 C210.66,271.23 214.05,269.43 217.84,267.33 C221.63,265.22 225.66,262.95 229.85,260.43 C234.03,257.91 238.45,255.19 242.95,252.21 C247.44,249.23 251.83,246.08 256.83,242.53 C261.82,238.97 267.09,234.90 272.92,230.86 C278.75,226.82 285.29,222.99 291.80,218.30 C298.31,213.61 304.88,208.15 312.00,202.70 C319.12,197.25 326.60,191.67 334.50,185.60 C342.40,179.53 350.70,172.82 359.40,166.30 C368.10,159.78 377.37,152.63 386.70,146.50 C396.03,140.37 402.52,139.88 415.40,129.50 C428.28,119.12 446.78,97.87 464.00,84.20 C481.22,70.53 506.37,56.12 518.70,47.50 C531.03,38.88 534.78,35.00 538.00,32.50" fill="none" stroke="#bca69c" stroke-width="1"/>
<path d="M137.48,293.30 C137.84,293.70 138.81,295.41 139.62,295.72 C140.43,296.03 141.31,295.67 142.35,295.17 C143.38,294.67 144.52,293.75 145.85,292.71 C147.18,291.67 148.75,290.32 150.34,288.93 C151.93,287.55 153.58,285.91 155.41,284.38 C157.24,282.86 159.24,281.38 161.33,279.76 C163.42,278.14 165.64,276.29 167.96,274.66 C170.29,273.04 172.78,271.57 175.28,270.00 C177.77,268.44 180.25,267.01 182.93,265.27 C185.62,263.53 188.51,261.49 191.37,259.55 C194.23,257.61 197.04,255.72 200.11,253.64 C203.19,251.56 206.42,249.55 209.81,247.07 C213.20,244.60 216.68,241.76 220.42,238.82 C224.17,235.89 228.03,232.81 232.30,229.47 C236.56,226.12 240.98,222.55 246.01,218.75 C251.04,214.96 256.69,210.54 262.48,206.68 C268.26,202.83 274.06,199.75 280.70,195.60 C287.34,191.45 294.48,186.00 302.30,181.80 C310.12,177.60 318.52,174.27 327.60,170.40 C336.68,166.53 346.02,161.78 356.80,158.60 C367.58,155.42 380.70,158.33 392.30,151.30 C403.90,144.27 413.85,126.95 426.40,116.40 C438.95,105.85 451.92,101.88 467.60,88.00 C483.28,74.12 511.68,42.25 520.50,33.10" fill="none" stroke="#8c96c8" stroke-width="1"/>
<rect x="132.89" y="297.42" width="8.70" height="8.70" fill="#fff2f6" stroke="#9a3614" stroke-width="2.30"/><rect x="135.74" y="300.27" width="3" height="3" fill="#c0102a"/>
<rect x="135.10" y="299.26" width="8.70" height="8.70" fill="#fff2f6" stroke="#9a3614" stroke-width="2.30"/><rect x="137.95" y="302.11" width="3" height="3" fill="#c0102a"/>
<rect x="137.79" y="300.17" width="8.70" height="8.70" fill="#fff2f6" stroke="#9a3614" stroke-width="2.30"/><rect x="140.64" y="303.02" width="3" height="3" fill="#c0102a"/>
<rect x="140.89" y="300.17" width="8.70" height="8.70" fill="#fff2f6" stroke="#9a3614" stroke-width="2.30"/><rect x="143.74" y="303.02" width="3" height="3" fill="#c0102a"/>
<rect x="144.80" y="299.07" width="8.70" height="8.70" fill="#fff2f6" stroke="#9a3614" stroke-width="2.30"/><rect x="147.65" y="301.92" width="3" height="3" fill="#c0102a"/>
<rect x="149.09" y="297.53" width="8.70" height="8.70" fill="#fff2f6" stroke="#9a3614" stroke-width="2.30"/><rect x="151.94" y="300.38" width="3" height="3" fill="#c0102a"/>
<rect x="154.19" y="295.88" width="8.70" height="8.70" fill="#fff2f6" stroke="#9a3614" stroke-width="2.30"/><rect x="157.04" y="298.73" width="3" height="3" fill="#c0102a"/>
<rect x="158.82" y="294.20" width="8.70" height="8.70" fill="#fff2f6" stroke="#9a3614" stroke-width="2.30"/><rect x="161.67" y="297.05" width="3" height="3" fill="#c0102a"/>
<rect x="164.80" y="293.02" width="8.70" height="8.70" fill="#fff2f6" stroke="#9a3614" stroke-width="2.30"/><rect x="167.65" y="295.87" width="3" height="3" fill="#c0102a"/>
<rect x="170.42" y="291.88" width="8.70" height="8.70" fill="#fff2f6" stroke="#9a3614" stroke-width="2.30"/><rect x="173.27" y="294.73" width="3" height="3" fill="#c0102a"/>
<rect x="176.68" y="290.60" width="8.70" height="8.70" fill="#fff2f6" stroke="#9a3614" stroke-width="2.30"/><rect x="179.53" y="293.45" width="3" height="3" fill="#c0102a"/>
<rect x="182.53" y="289.39" width="8.70" height="8.70" fill="#fff2f6" stroke="#9a3614" stroke-width="2.30"/><rect x="185.38" y="292.24" width="3" height="3" fill="#c0102a"/>
<rect x="188.82" y="287.81" width="8.70" height="8.70" fill="#fff2f6" stroke="#9a3614" stroke-width="2.30"/><rect x="191.67" y="290.66" width="3" height="3" fill="#c0102a"/>
<rect x="195.39" y="286.16" width="8.70" height="8.70" fill="#fff2f6" stroke="#9a3614" stroke-width="2.30"/><rect x="198.24" y="289.01" width="3" height="3" fill="#c0102a"/>
<rect x="202.50" y="283.70" width="8.70" height="8.70" fill="#fff2f6" stroke="#9a3614" stroke-width="2.30"/><rect x="205.35" y="286.55" width="3" height="3" fill="#c0102a"/>
<rect x="209.92" y="281.32" width="8.70" height="8.70" fill="#fff2f6" stroke="#9a3614" stroke-width="2.30"/><rect x="212.77" y="284.17" width="3" height="3" fill="#c0102a"/>
<rect x="218.80" y="278.27" width="8.70" height="8.70" fill="#fff2f6" stroke="#9a3614" stroke-width="2.30"/><rect x="221.65" y="281.12" width="3" height="3" fill="#c0102a"/>
<rect x="228.46" y="274.24" width="8.70" height="8.70" fill="#fff2f6" stroke="#9a3614" stroke-width="2.30"/><rect x="231.31" y="277.09" width="3" height="3" fill="#c0102a"/>
<rect x="239.28" y="270.64" width="8.70" height="8.70" fill="#fff2f6" stroke="#9a3614" stroke-width="2.30"/><rect x="242.13" y="273.49" width="3" height="3" fill="#c0102a"/>
<rect x="252.07" y="265.21" width="8.70" height="8.70" fill="#fff2f6" stroke="#9a3614" stroke-width="2.30"/><rect x="254.92" y="268.06" width="3" height="3" fill="#c0102a"/>
<rect x="268.30" y="257.80" width="8.70" height="8.70" fill="#fff2f6" stroke="#9a3614" stroke-width="2.30"/><rect x="271.15" y="260.65" width="3" height="3" fill="#c0102a"/>
<rect x="286.45" y="251.35" width="8.70" height="8.70" fill="#fff2f6" stroke="#9a3614" stroke-width="2.30"/><rect x="289.30" y="254.20" width="3" height="3" fill="#c0102a"/>
<rect x="312.05" y="240.95" width="8.70" height="8.70" fill="#fff2f6" stroke="#9a3614" stroke-width="2.30"/><rect x="314.90" y="243.80" width="3" height="3" fill="#c0102a"/>
<rect x="333.05" y="234.25" width="8.70" height="8.70" fill="#fff2f6" stroke="#9a3614" stroke-width="2.30"/><rect x="335.90" y="237.10" width="3" height="3" fill="#c0102a"/>
<rect x="351.95" y="225.35" width="8.70" height="8.70" fill="#fff2f6" stroke="#9a3614" stroke-width="2.30"/><rect x="354.80" y="228.20" width="3" height="3" fill="#c0102a"/>
<circle cx="137.07" cy="297.92" r="6.20" fill="#1010e2"/>
<circle cx="139.11" cy="299.76" r="6.20" fill="#1010e2"/>
<circle cx="141.39" cy="300.49" r="6.20" fill="#1010e2"/>
<circle cx="144.73" cy="300.49" r="6.20" fill="#1010e2"/>
<circle cx="149.39" cy="299.02" r="6.20" fill="#1010e2"/>
<circle cx="154.93" cy="296.71" r="6.20" fill="#1010e2"/>
<circle cx="161.53" cy="293.92" r="6.20" fill="#1010e2"/>
<circle cx="168.95" cy="290.14" r="6.20" fill="#1010e2"/>
<circle cx="177.52" cy="286.48" r="6.20" fill="#1010e2"/>
<circle cx="186.54" cy="282.37" r="6.20" fill="#1010e2"/>
<circle cx="196.41" cy="278.22" r="6.20" fill="#1010e2"/>
<circle cx="207.09" cy="273.05" r="6.20" fill="#1010e2"/>
<circle cx="217.84" cy="267.33" r="6.20" fill="#1010e2"/>
<circle cx="229.85" cy="260.43" r="6.20" fill="#1010e2"/>
<circle cx="242.95" cy="252.21" r="6.20" fill="#1010e2"/>
<circle cx="256.83" cy="242.53" r="6.20" fill="#1010e2"/>
<circle cx="272.92" cy="230.86" r="6.20" fill="#1010e2"/>
<circle cx="291.80" cy="218.30" r="6.20" fill="#1010e2"/>
<circle cx="312.00" cy="202.70" r="6.20" fill="#1010e2"/>
<circle cx="334.50" cy="185.60" r="6.20" fill="#1010e2"/>
<circle cx="359.40" cy="166.30" r="6.20" fill="#1010e2"/>
<circle cx="386.70" cy="146.50" r="6.20" fill="#1010e2"/>
<circle cx="415.40" cy="129.50" r="6.20" fill="#1010e2"/>
<circle cx="464.00" cy="84.20" r="6.20" fill="#1010e2"/>
<circle cx="518.70" cy="47.50" r="6.20" fill="#1010e2"/>
<polygon points="137.48,285.40 145.38,293.30 137.48,301.20 129.58,293.30" fill="#2c5a6a"/><polygon points="137.48,287.11 143.15,294.10 131.81,294.10" fill="#217e86"/><polygon points="133.77,294.30 141.19,294.30 137.48,298.01" fill="#e2fcf8"/>
<polygon points="139.62,287.82 147.52,295.72 139.62,303.62 131.72,295.72" fill="#2c5a6a"/><polygon points="139.62,289.54 145.29,296.52 133.95,296.52" fill="#217e86"/><polygon points="135.91,296.72 143.34,296.72 139.62,300.43" fill="#e2fcf8"/>
<polygon points="142.35,287.27 150.25,295.17 142.35,303.07 134.45,295.17" fill="#2c5a6a"/><polygon points="142.35,288.99 148.02,295.97 136.68,295.97" fill="#217e86"/><polygon points="138.63,296.17 146.06,296.17 142.35,299.88" fill="#e2fcf8"/>
<polygon points="145.85,284.81 153.75,292.71 145.85,300.61 137.95,292.71" fill="#2c5a6a"/><polygon points="145.85,286.53 151.52,293.51 140.18,293.51" fill="#217e86"/><polygon points="142.14,293.71 149.56,293.71 145.85,297.43" fill="#e2fcf8"/>
<polygon points="150.34,281.03 158.24,288.93 150.34,296.83 142.44,288.93" fill="#2c5a6a"/><polygon points="150.34,282.75 156.01,289.73 144.67,289.73" fill="#217e86"/><polygon points="146.63,289.93 154.05,289.93 150.34,293.65" fill="#e2fcf8"/>
<polygon points="155.41,276.48 163.31,284.38 155.41,292.28 147.51,284.38" fill="#2c5a6a"/><polygon points="155.41,278.20 161.08,285.18 149.74,285.18" fill="#217e86"/><polygon points="151.70,285.38 159.12,285.38 155.41,289.10" fill="#e2fcf8"/>
<polygon points="161.33,271.86 169.23,279.76 161.33,287.66 153.43,279.76" fill="#2c5a6a"/><polygon points="161.33,273.58 167.00,280.56 155.66,280.56" fill="#217e86"/><polygon points="157.62,280.76 165.04,280.76 161.33,284.47" fill="#e2fcf8"/>
<polygon points="167.96,266.76 175.86,274.66 167.96,282.56 160.06,274.66" fill="#2c5a6a"/><polygon points="167.96,268.48 173.63,275.46 162.29,275.46" fill="#217e86"/><polygon points="164.25,275.66 171.68,275.66 167.96,279.38" fill="#e2fcf8"/>
<polygon points="175.28,262.10 183.18,270.00 175.28,277.90 167.38,270.00" fill="#2c5a6a"/><polygon points="175.28,263.82 180.95,270.80 169.61,270.80" fill="#217e86"/><polygon points="171.57,271.00 178.99,271.00 175.28,274.72" fill="#e2fcf8"/>
<polygon points="182.93,257.37 190.83,265.27 182.93,273.17 175.03,265.27" fill="#2c5a6a"/><polygon points="182.93,259.09 188.60,266.07 177.26,266.07" fill="#217e86"/><polygon points="179.22,266.27 186.65,266.27 182.93,269.98" fill="#e2fcf8"/>
<polygon points="191.37,251.65 199.27,259.55 191.37,267.45 183.47,259.55" fill="#2c5a6a"/><polygon points="191.37,253.36 197.04,260.35 185.70,260.35" fill="#217e86"/><polygon points="187.66,260.55 195.08,260.55 191.37,264.26" fill="#e2fcf8"/>
<polygon points="200.11,245.74 208.01,253.64 200.11,261.54 192.21,253.64" fill="#2c5a6a"/><polygon points="200.11,247.46 205.78,254.44 194.44,254.44" fill="#217e86"/><polygon points="196.40,254.64 203.83,254.64 200.11,258.35" fill="#e2fcf8"/>
<polygon points="209.81,239.17 217.71,247.07 209.81,254.97 201.91,247.07" fill="#2c5a6a"/><polygon points="209.81,240.89 215.48,247.87 204.14,247.87" fill="#217e86"/><polygon points="206.10,248.07 213.52,248.07 209.81,251.79" fill="#e2fcf8"/>
<polygon points="220.42,230.92 228.32,238.82 220.42,246.72 212.52,238.82" fill="#2c5a6a"/><polygon points="220.42,232.64 226.09,239.62 214.75,239.62" fill="#217e86"/><polygon points="216.71,239.82 224.14,239.82 220.42,243.53" fill="#e2fcf8"/>
<polygon points="232.30,221.57 240.20,229.47 232.30,237.37 224.40,229.47" fill="#2c5a6a"/><polygon points="232.30,223.28 237.97,230.27 226.63,230.27" fill="#217e86"/><polygon points="228.59,230.47 236.01,230.47 232.30,234.18" fill="#e2fcf8"/>
<polygon points="246.01,210.85 253.91,218.75 246.01,226.65 238.11,218.75" fill="#2c5a6a"/><polygon points="246.01,212.57 251.68,219.55 240.34,219.55" fill="#217e86"/><polygon points="242.30,219.75 249.72,219.75 246.01,223.47" fill="#e2fcf8"/>
<polygon points="262.48,198.78 270.38,206.68 262.48,214.58 254.58,206.68" fill="#2c5a6a"/><polygon points="262.48,200.50 268.15,207.48 256.81,207.48" fill="#217e86"/><polygon points="258.76,207.68 266.19,207.68 262.48,211.40" fill="#e2fcf8"/>
<polygon points="280.70,187.70 288.60,195.60 280.70,203.50 272.80,195.60" fill="#2c5a6a"/><polygon points="280.70,189.42 286.37,196.40 275.03,196.40" fill="#217e86"/><polygon points="276.99,196.60 284.41,196.60 280.70,200.31" fill="#e2fcf8"/>
<polygon points="302.30,173.90 310.20,181.80 302.30,189.70 294.40,181.80" fill="#2c5a6a"/><polygon points="302.30,175.62 307.97,182.60 296.63,182.60" fill="#217e86"/><polygon points="298.59,182.80 306.01,182.80 302.30,186.51" fill="#e2fcf8"/>
<polygon points="327.60,162.50 335.50,170.40 327.60,178.30 319.70,170.40" fill="#2c5a6a"/><polygon points="327.60,164.22 333.27,171.20 321.93,171.20" fill="#217e86"/><polygon points="323.89,171.40 331.31,171.40 327.60,175.11" fill="#e2fcf8"/>
<polygon points="356.80,150.70 364.70,158.60 356.80,166.50 348.90,158.60" fill="#2c5a6a"/><polygon points="356.80,152.42 362.47,159.40 351.13,159.40" fill="#217e86"/><polygon points="353.09,159.60 360.51,159.60 356.80,163.31" fill="#e2fcf8"/>
<polygon points="392.30,143.40 400.20,151.30 392.30,159.20 384.40,151.30" fill="#2c5a6a"/><polygon points="392.30,145.12 397.97,152.10 386.63,152.10" fill="#217e86"/><polygon points="388.59,152.30 396.01,152.30 392.30,156.01" fill="#e2fcf8"/>
<polygon points="426.40,108.50 434.30,116.40 426.40,124.30 418.50,116.40" fill="#2c5a6a"/><polygon points="426.40,110.22 432.07,117.20 420.73,117.20" fill="#217e86"/><polygon points="422.69,117.40 430.11,117.40 426.40,121.11" fill="#e2fcf8"/>
<polygon points="467.60,80.10 475.50,88.00 467.60,95.90 459.70,88.00" fill="#2c5a6a"/><polygon points="467.60,81.82 473.27,88.80 461.93,88.80" fill="#217e86"/><polygon points="463.89,89.00 471.31,89.00 467.60,92.71" fill="#e2fcf8"/>
<polygon points="520.50,25.20 528.40,33.10 520.50,41.00 512.60,33.10" fill="#2c5a6a"/><polygon points="520.50,26.92 526.17,33.90 514.83,33.90" fill="#217e86"/><polygon points="516.79,34.10 524.21,34.10 520.50,37.81" fill="#e2fcf8"/>
<polygon points="136.90,294.56 129.40,307.56 144.40,307.56" fill="#c028ee"/>
<polygon points="138.67,297.31 131.17,310.31 146.17,310.31" fill="#c028ee"/>
<polygon points="140.81,298.41 133.31,311.41 148.31,311.41" fill="#c028ee"/>
<polygon points="143.20,298.59 135.70,311.59 150.70,311.59" fill="#c028ee"/>
<polygon points="145.58,298.41 138.08,311.41 153.08,311.41" fill="#c028ee"/>
<polygon points="148.47,297.78 140.97,310.78 155.97,310.78" fill="#c028ee"/>
<polygon points="153.50,296.22 146.00,309.22 161.00,309.22" fill="#c028ee"/>
<polygon points="158.88,294.68 151.38,307.68 166.38,307.68" fill="#c028ee"/>
<polygon points="164.49,293.93 156.99,306.93 171.99,306.93" fill="#c028ee"/>
<polygon points="170.11,294.11 162.61,307.11 177.61,307.11" fill="#c028ee"/>
<polygon points="175.55,294.65 168.05,307.65 183.05,307.65" fill="#c028ee"/>
<polygon points="181.20,295.45 173.70,308.45 188.70,308.45" fill="#c028ee"/>
<polygon points="186.00,296.82 178.50,309.82 193.50,309.82" fill="#c028ee"/>
<polygon points="190.66,298.42 183.16,311.42 198.16,311.42" fill="#c028ee"/>
<polygon points="194.94,299.76 187.44,312.76 202.44,312.76" fill="#c028ee"/>
<polygon points="198.92,300.61 191.42,313.61 206.42,313.61" fill="#c028ee"/>
<polygon points="203.14,301.00 195.64,314.00 210.64,314.00" fill="#c028ee"/>
<polygon points="207.73,300.73 200.23,313.73 215.23,313.73" fill="#c028ee"/>
<polygon points="212.29,299.54 204.79,312.54 219.79,312.54" fill="#c028ee"/>
<polygon points="217.33,298.19 209.83,311.19 224.83,311.19" fill="#c028ee"/>
<polygon points="223.15,296.01 215.65,309.01 230.65,309.01" fill="#c028ee"/>
<polygon points="230.63,292.54 223.13,305.54 238.13,305.54" fill="#c028ee"/>
<polygon points="238.80,288.16 231.30,301.16 246.30,301.16" fill="#c028ee"/>
<polygon points="250.26,283.84 242.76,296.84 257.76,296.84" fill="#c028ee"/>
<polygon points="262.10,280.90 254.60,293.90 269.60,293.90" fill="#c028ee"/>
<polygon points="281.40,278.75 273.90,291.75 288.90,291.75" fill="#c028ee"/>
</g>
<g clip-path="url(#cain)">
<path d="M137.24,301.77 C137.61,302.08 138.64,303.15 139.45,303.61 C140.27,304.07 141.18,304.37 142.14,304.52 C143.11,304.68 144.07,304.71 145.24,304.52 C146.41,304.34 147.78,303.86 149.15,303.42 C150.52,302.98 151.87,302.42 153.44,301.88 C155.00,301.35 156.92,300.79 158.54,300.23 C160.16,299.68 161.40,299.02 163.17,298.55 C164.94,298.07 167.22,297.76 169.15,297.37 C171.09,296.99 172.79,296.64 174.77,296.23 C176.75,295.83 179.01,295.37 181.03,294.95 C183.05,294.53 184.86,294.20 186.88,293.74 C188.90,293.27 191.03,292.70 193.17,292.16 C195.32,291.62 197.46,291.20 199.74,290.51 C202.02,289.83 204.43,288.86 206.85,288.05 C209.27,287.25 211.55,286.57 214.27,285.67 C216.98,284.76 220.06,283.80 223.15,282.62 C226.24,281.44 229.40,279.86 232.81,278.59 C236.22,277.32 239.69,276.50 243.63,274.99 C247.56,273.49 251.58,271.70 256.42,269.56 C261.26,267.42 266.92,264.46 272.65,262.15 C278.38,259.84 283.51,258.51 290.80,255.70 C298.09,252.89 308.63,248.15 316.40,245.30 C324.17,242.45 330.75,241.20 337.40,238.60 C344.05,236.00 353.15,231.18 356.30,229.70" fill="none" stroke="#a09090" stroke-width="1"/>
<path d="M136.90,301.71 C137.20,302.16 138.02,303.81 138.67,304.46 C139.32,305.10 140.06,305.34 140.81,305.56 C141.57,305.77 142.40,305.74 143.20,305.74 C143.99,305.74 144.70,305.69 145.58,305.56 C146.46,305.42 147.15,305.30 148.47,304.93 C149.79,304.57 151.77,303.89 153.50,303.37 C155.24,302.85 157.05,302.21 158.88,301.83 C160.71,301.44 162.62,301.18 164.49,301.08 C166.36,300.99 168.26,301.14 170.11,301.26 C171.95,301.38 173.70,301.58 175.55,301.80 C177.40,302.03 179.46,302.24 181.20,302.60 C182.94,302.96 184.42,303.48 186.00,303.97 C187.57,304.46 189.16,305.07 190.66,305.57 C192.15,306.06 193.56,306.55 194.94,306.91 C196.32,307.28 197.56,307.55 198.92,307.76 C200.29,307.96 201.67,308.13 203.14,308.15 C204.61,308.17 206.21,308.12 207.73,307.88 C209.26,307.63 210.69,307.11 212.29,306.69 C213.89,306.26 215.52,305.93 217.33,305.34 C219.14,304.75 220.93,304.10 223.15,303.16 C225.36,302.22 228.02,300.99 230.63,299.69 C233.24,298.38 235.52,296.76 238.80,295.31 C242.07,293.86 246.38,292.20 250.26,290.99 C254.15,289.78 256.91,288.90 262.10,288.05 C267.29,287.20 278.18,286.26 281.40,285.90" fill="none" stroke="#b0b8c0" stroke-width="1"/>
<path d="M137.07,297.92 C137.41,298.23 138.39,299.33 139.11,299.76 C139.83,300.18 140.46,300.37 141.39,300.49 C142.33,300.61 143.39,300.73 144.73,300.49 C146.06,300.24 147.69,299.65 149.39,299.02 C151.09,298.39 152.91,297.56 154.93,296.71 C156.96,295.86 159.20,295.02 161.53,293.92 C163.87,292.83 166.29,291.39 168.95,290.14 C171.62,288.90 174.59,287.77 177.52,286.48 C180.46,285.18 183.39,283.74 186.54,282.37 C189.69,280.99 192.98,279.77 196.41,278.22 C199.83,276.67 203.52,274.86 207.09,273.05 C210.66,271.23 214.05,269.43 217.84,267.33 C221.63,265.22 225.66,262.95 229.85,260.43 C234.03,257.91 238.45,255.19 242.95,252.21 C247.44,249.23 251.83,246.08 256.83,242.53 C261.82,238.97 267.09,234.90 272.92,230.86 C278.75,226.82 285.29,222.99 291.80,218.30 C298.31,213.61 304.88,208.15 312.00,202.70 C319.12,197.25 326.60,191.67 334.50,185.60 C342.40,179.53 350.70,172.82 359.40,166.30 C368.10,159.78 377.37,152.63 386.70,146.50 C396.03,140.37 402.52,139.88 415.40,129.50 C428.28,119.12 446.78,97.87 464.00,84.20 C481.22,70.53 506.37,56.12 518.70,47.50 C531.03,38.88 534.78,35.00 538.00,32.50" fill="none" stroke="#d0b8b0" stroke-width="1"/>
<path d="M137.48,293.30 C137.84,293.70 138.81,295.41 139.62,295.72 C140.43,296.03 141.31,295.67 142.35,295.17 C143.38,294.67 144.52,293.75 145.85,292.71 C147.18,291.67 148.75,290.32 150.34,288.93 C151.93,287.55 153.58,285.91 155.41,284.38 C157.24,282.86 159.24,281.38 161.33,279.76 C163.42,278.14 165.64,276.29 167.96,274.66 C170.29,273.04 172.78,271.57 175.28,270.00 C177.77,268.44 180.25,267.01 182.93,265.27 C185.62,263.53 188.51,261.49 191.37,259.55 C194.23,257.61 197.04,255.72 200.11,253.64 C203.19,251.56 206.42,249.55 209.81,247.07 C213.20,244.60 216.68,241.76 220.42,238.82 C224.17,235.89 228.03,232.81 232.30,229.47 C236.56,226.12 240.98,222.55 246.01,218.75 C251.04,214.96 256.69,210.54 262.48,206.68 C268.26,202.83 274.06,199.75 280.70,195.60 C287.34,191.45 294.48,186.00 302.30,181.80 C310.12,177.60 318.52,174.27 327.60,170.40 C336.68,166.53 346.02,161.78 356.80,158.60 C367.58,155.42 380.70,158.33 392.30,151.30 C403.90,144.27 413.85,126.95 426.40,116.40 C438.95,105.85 451.92,101.88 467.60,88.00 C483.28,74.12 511.68,42.25 520.50,33.10" fill="none" stroke="#a8aad0" stroke-width="1"/>
<rect x="132.89" y="297.42" width="8.70" height="8.70" fill="#fbeef0" stroke="#c8704e" stroke-width="2.30"/><rect x="135.74" y="300.27" width="3" height="3" fill="#c85050"/>
<rect x="135.10" y="299.26" width="8.70" height="8.70" fill="#fbeef0" stroke="#c8704e" stroke-width="2.30"/><rect x="137.95" y="302.11" width="3" height="3" fill="#c85050"/>
<rect x="137.79" y="300.17" width="8.70" height="8.70" fill="#fbeef0" stroke="#c8704e" stroke-width="2.30"/><rect x="140.64" y="303.02" width="3" height="3" fill="#c85050"/>
<rect x="140.89" y="300.17" width="8.70" height="8.70" fill="#fbeef0" stroke="#c8704e" stroke-width="2.30"/><rect x="143.74" y="303.02" width="3" height="3" fill="#c85050"/>
<rect x="144.80" y="299.07" width="8.70" height="8.70" fill="#fbeef0" stroke="#c8704e" stroke-width="2.30"/><rect x="147.65" y="301.92" width="3" height="3" fill="#c85050"/>
<rect x="149.09" y="297.53" width="8.70" height="8.70" fill="#fbeef0" stroke="#c8704e" stroke-width="2.30"/><rect x="151.94" y="300.38" width="3" height="3" fill="#c85050"/>
<rect x="154.19" y="295.88" width="8.70" height="8.70" fill="#fbeef0" stroke="#c8704e" stroke-width="2.30"/><rect x="157.04" y="298.73" width="3" height="3" fill="#c85050"/>
<rect x="158.82" y="294.20" width="8.70" height="8.70" fill="#fbeef0" stroke="#c8704e" stroke-width="2.30"/><rect x="161.67" y="297.05" width="3" height="3" fill="#c85050"/>
<rect x="164.80" y="293.02" width="8.70" height="8.70" fill="#fbeef0" stroke="#c8704e" stroke-width="2.30"/><rect x="167.65" y="295.87" width="3" height="3" fill="#c85050"/>
<rect x="170.42" y="291.88" width="8.70" height="8.70" fill="#fbeef0" stroke="#c8704e" stroke-width="2.30"/><rect x="173.27" y="294.73" width="3" height="3" fill="#c85050"/>
<rect x="176.68" y="290.60" width="8.70" height="8.70" fill="#fbeef0" stroke="#c8704e" stroke-width="2.30"/><rect x="179.53" y="293.45" width="3" height="3" fill="#c85050"/>
<rect x="182.53" y="289.39" width="8.70" height="8.70" fill="#fbeef0" stroke="#c8704e" stroke-width="2.30"/><rect x="185.38" y="292.24" width="3" height="3" fill="#c85050"/>
<rect x="188.82" y="287.81" width="8.70" height="8.70" fill="#fbeef0" stroke="#c8704e" stroke-width="2.30"/><rect x="191.67" y="290.66" width="3" height="3" fill="#c85050"/>
<rect x="195.39" y="286.16" width="8.70" height="8.70" fill="#fbeef0" stroke="#c8704e" stroke-width="2.30"/><rect x="198.24" y="289.01" width="3" height="3" fill="#c85050"/>
<rect x="202.50" y="283.70" width="8.70" height="8.70" fill="#fbeef0" stroke="#c8704e" stroke-width="2.30"/><rect x="205.35" y="286.55" width="3" height="3" fill="#c85050"/>
<rect x="209.92" y="281.32" width="8.70" height="8.70" fill="#fbeef0" stroke="#c8704e" stroke-width="2.30"/><rect x="212.77" y="284.17" width="3" height="3" fill="#c85050"/>
<rect x="218.80" y="278.27" width="8.70" height="8.70" fill="#fbeef0" stroke="#c8704e" stroke-width="2.30"/><rect x="221.65" y="281.12" width="3" height="3" fill="#c85050"/>
<rect x="228.46" y="274.24" width="8.70" height="8.70" fill="#fbeef0" stroke="#c8704e" stroke-width="2.30"/><rect x="231.31" y="277.09" width="3" height="3" fill="#c85050"/>
<rect x="239.28" y="270.64" width="8.70" height="8.70" fill="#fbeef0" stroke="#c8704e" stroke-width="2.30"/><rect x="242.13" y="273.49" width="3" height="3" fill="#c85050"/>
<rect x="252.07" y="265.21" width="8.70" height="8.70" fill="#fbeef0" stroke="#c8704e" stroke-width="2.30"/><rect x="254.92" y="268.06" width="3" height="3" fill="#c85050"/>
<rect x="268.30" y="257.80" width="8.70" height="8.70" fill="#fbeef0" stroke="#c8704e" stroke-width="2.30"/><rect x="271.15" y="260.65" width="3" height="3" fill="#c85050"/>
<rect x="286.45" y="251.35" width="8.70" height="8.70" fill="#fbeef0" stroke="#c8704e" stroke-width="2.30"/><rect x="289.30" y="254.20" width="3" height="3" fill="#c85050"/>
<rect x="312.05" y="240.95" width="8.70" height="8.70" fill="#fbeef0" stroke="#c8704e" stroke-width="2.30"/><rect x="314.90" y="243.80" width="3" height="3" fill="#c85050"/>
<rect x="333.05" y="234.25" width="8.70" height="8.70" fill="#fbeef0" stroke="#c8704e" stroke-width="2.30"/><rect x="335.90" y="237.10" width="3" height="3" fill="#c85050"/>
<rect x="351.95" y="225.35" width="8.70" height="8.70" fill="#fbeef0" stroke="#c8704e" stroke-width="2.30"/><rect x="354.80" y="228.20" width="3" height="3" fill="#c85050"/>
<circle cx="137.07" cy="297.92" r="6.20" fill="#5a5ae8"/>
<circle cx="139.11" cy="299.76" r="6.20" fill="#5a5ae8"/>
<circle cx="141.39" cy="300.49" r="6.20" fill="#5a5ae8"/>
<circle cx="144.73" cy="300.49" r="6.20" fill="#5a5ae8"/>
<circle cx="149.39" cy="299.02" r="6.20" fill="#5a5ae8"/>
<circle cx="154.93" cy="296.71" r="6.20" fill="#5a5ae8"/>
<circle cx="161.53" cy="293.92" r="6.20" fill="#5a5ae8"/>
<circle cx="168.95" cy="290.14" r="6.20" fill="#5a5ae8"/>
<circle cx="177.52" cy="286.48" r="6.20" fill="#5a5ae8"/>
<circle cx="186.54" cy="282.37" r="6.20" fill="#5a5ae8"/>
<circle cx="196.41" cy="278.22" r="6.20" fill="#5a5ae8"/>
<circle cx="207.09" cy="273.05" r="6.20" fill="#5a5ae8"/>
<circle cx="217.84" cy="267.33" r="6.20" fill="#5a5ae8"/>
<circle cx="229.85" cy="260.43" r="6.20" fill="#5a5ae8"/>
<circle cx="242.95" cy="252.21" r="6.20" fill="#5a5ae8"/>
<circle cx="256.83" cy="242.53" r="6.20" fill="#5a5ae8"/>
<circle cx="272.92" cy="230.86" r="6.20" fill="#5a5ae8"/>
<circle cx="291.80" cy="218.30" r="6.20" fill="#5a5ae8"/>
<circle cx="312.00" cy="202.70" r="6.20" fill="#5a5ae8"/>
<circle cx="334.50" cy="185.60" r="6.20" fill="#5a5ae8"/>
<circle cx="359.40" cy="166.30" r="6.20" fill="#5a5ae8"/>
<circle cx="386.70" cy="146.50" r="6.20" fill="#5a5ae8"/>
<circle cx="415.40" cy="129.50" r="6.20" fill="#5a5ae8"/>
<circle cx="464.00" cy="84.20" r="6.20" fill="#5a5ae8"/>
<circle cx="518.70" cy="47.50" r="6.20" fill="#5a5ae8"/>
<polygon points="137.48,285.40 145.38,293.30 137.48,301.20 129.58,293.30" fill="#3a7c88"/><polygon points="137.48,287.11 143.15,294.10 131.81,294.10" fill="#1e9898"/><polygon points="133.77,294.30 141.19,294.30 137.48,298.01" fill="#b8f0e6"/>
<polygon points="139.62,287.82 147.52,295.72 139.62,303.62 131.72,295.72" fill="#3a7c88"/><polygon points="139.62,289.54 145.29,296.52 133.95,296.52" fill="#1e9898"/><polygon points="135.91,296.72 143.34,296.72 139.62,300.43" fill="#b8f0e6"/>
<polygon points="142.35,287.27 150.25,295.17 142.35,303.07 134.45,295.17" fill="#3a7c88"/><polygon points="142.35,288.99 148.02,295.97 136.68,295.97" fill="#1e9898"/><polygon points="138.63,296.17 146.06,296.17 142.35,299.88" fill="#b8f0e6"/>
<polygon points="145.85,284.81 153.75,292.71 145.85,300.61 137.95,292.71" fill="#3a7c88"/><polygon points="145.85,286.53 151.52,293.51 140.18,293.51" fill="#1e9898"/><polygon points="142.14,293.71 149.56,293.71 145.85,297.43" fill="#b8f0e6"/>
<polygon points="150.34,281.03 158.24,288.93 150.34,296.83 142.44,288.93" fill="#3a7c88"/><polygon points="150.34,282.75 156.01,289.73 144.67,289.73" fill="#1e9898"/><polygon points="146.63,289.93 154.05,289.93 150.34,293.65" fill="#b8f0e6"/>
<polygon points="155.41,276.48 163.31,284.38 155.41,292.28 147.51,284.38" fill="#3a7c88"/><polygon points="155.41,278.20 161.08,285.18 149.74,285.18" fill="#1e9898"/><polygon points="151.70,285.38 159.12,285.38 155.41,289.10" fill="#b8f0e6"/>
<polygon points="161.33,271.86 169.23,279.76 161.33,287.66 153.43,279.76" fill="#3a7c88"/><polygon points="161.33,273.58 167.00,280.56 155.66,280.56" fill="#1e9898"/><polygon points="157.62,280.76 165.04,280.76 161.33,284.47" fill="#b8f0e6"/>
<polygon points="167.96,266.76 175.86,274.66 167.96,282.56 160.06,274.66" fill="#3a7c88"/><polygon points="167.96,268.48 173.63,275.46 162.29,275.46" fill="#1e9898"/><polygon points="164.25,275.66 171.68,275.66 167.96,279.38" fill="#b8f0e6"/>
<polygon points="175.28,262.10 183.18,270.00 175.28,277.90 167.38,270.00" fill="#3a7c88"/><polygon points="175.28,263.82 180.95,270.80 169.61,270.80" fill="#1e9898"/><polygon points="171.57,271.00 178.99,271.00 175.28,274.72" fill="#b8f0e6"/>
<polygon points="182.93,257.37 190.83,265.27 182.93,273.17 175.03,265.27" fill="#3a7c88"/><polygon points="182.93,259.09 188.60,266.07 177.26,266.07" fill="#1e9898"/><polygon points="179.22,266.27 186.65,266.27 182.93,269.98" fill="#b8f0e6"/>
<polygon points="191.37,251.65 199.27,259.55 191.37,267.45 183.47,259.55" fill="#3a7c88"/><polygon points="191.37,253.36 197.04,260.35 185.70,260.35" fill="#1e9898"/><polygon points="187.66,260.55 195.08,260.55 191.37,264.26" fill="#b8f0e6"/>
<polygon points="200.11,245.74 208.01,253.64 200.11,261.54 192.21,253.64" fill="#3a7c88"/><polygon points="200.11,247.46 205.78,254.44 194.44,254.44" fill="#1e9898"/><polygon points="196.40,254.64 203.83,254.64 200.11,258.35" fill="#b8f0e6"/>
<polygon points="209.81,239.17 217.71,247.07 209.81,254.97 201.91,247.07" fill="#3a7c88"/><polygon points="209.81,240.89 215.48,247.87 204.14,247.87" fill="#1e9898"/><polygon points="206.10,248.07 213.52,248.07 209.81,251.79" fill="#b8f0e6"/>
<polygon points="220.42,230.92 228.32,238.82 220.42,246.72 212.52,238.82" fill="#3a7c88"/><polygon points="220.42,232.64 226.09,239.62 214.75,239.62" fill="#1e9898"/><polygon points="216.71,239.82 224.14,239.82 220.42,243.53" fill="#b8f0e6"/>
<polygon points="232.30,221.57 240.20,229.47 232.30,237.37 224.40,229.47" fill="#3a7c88"/><polygon points="232.30,223.28 237.97,230.27 226.63,230.27" fill="#1e9898"/><polygon points="228.59,230.47 236.01,230.47 232.30,234.18" fill="#b8f0e6"/>
<polygon points="246.01,210.85 253.91,218.75 246.01,226.65 238.11,218.75" fill="#3a7c88"/><polygon points="246.01,212.57 251.68,219.55 240.34,219.55" fill="#1e9898"/><polygon points="242.30,219.75 249.72,219.75 246.01,223.47" fill="#b8f0e6"/>
<polygon points="262.48,198.78 270.38,206.68 262.48,214.58 254.58,206.68" fill="#3a7c88"/><polygon points="262.48,200.50 268.15,207.48 256.81,207.48" fill="#1e9898"/><polygon points="258.76,207.68 266.19,207.68 262.48,211.40" fill="#b8f0e6"/>
<polygon points="280.70,187.70 288.60,195.60 280.70,203.50 272.80,195.60" fill="#3a7c88"/><polygon points="280.70,189.42 286.37,196.40 275.03,196.40" fill="#1e9898"/><polygon points="276.99,196.60 284.41,196.60 280.70,200.31" fill="#b8f0e6"/>
<polygon points="302.30,173.90 310.20,181.80 302.30,189.70 294.40,181.80" fill="#3a7c88"/><polygon points="302.30,175.62 307.97,182.60 296.63,182.60" fill="#1e9898"/><polygon points="298.59,182.80 306.01,182.80 302.30,186.51" fill="#b8f0e6"/>
<polygon points="327.60,162.50 335.50,170.40 327.60,178.30 319.70,170.40" fill="#3a7c88"/><polygon points="327.60,164.22 333.27,171.20 321.93,171.20" fill="#1e9898"/><polygon points="323.89,171.40 331.31,171.40 327.60,175.11" fill="#b8f0e6"/>
<polygon points="356.80,150.70 364.70,158.60 356.80,166.50 348.90,158.60" fill="#3a7c88"/><polygon points="356.80,152.42 362.47,159.40 351.13,159.40" fill="#1e9898"/><polygon points="353.09,159.60 360.51,159.60 356.80,163.31" fill="#b8f0e6"/>
<polygon points="392.30,143.40 400.20,151.30 392.30,159.20 384.40,151.30" fill="#3a7c88"/><polygon points="392.30,145.12 397.97,152.10 386.63,152.10" fill="#1e9898"/><polygon points="388.59,152.30 396.01,152.30 392.30,156.01" fill="#b8f0e6"/>
<polygon points="426.40,108.50 434.30,116.40 426.40,124.30 418.50,116.40" fill="#3a7c88"/><polygon points="426.40,110.22 432.07,117.20 420.73,117.20" fill="#1e9898"/><polygon points="422.69,117.40 430.11,117.40 426.40,121.11" fill="#b8f0e6"/>
<polygon points="467.60,80.10 475.50,88.00 467.60,95.90 459.70,88.00" fill="#3a7c88"/><polygon points="467.60,81.82 473.27,88.80 461.93,88.80" fill="#1e9898"/><polygon points="463.89,89.00 471.31,89.00 467.60,92.71" fill="#b8f0e6"/>
<polygon points="520.50,25.20 528.40,33.10 520.50,41.00 512.60,33.10" fill="#3a7c88"/><polygon points="520.50,26.92 526.17,33.90 514.83,33.90" fill="#1e9898"/><polygon points="516.79,34.10 524.21,34.10 520.50,37.81" fill="#b8f0e6"/>
<polygon points="136.90,294.56 129.40,307.56 144.40,307.56" fill="#ec62e8"/>
<polygon points="138.67,297.31 131.17,310.31 146.17,310.31" fill="#ec62e8"/>
<polygon points="140.81,298.41 133.31,311.41 148.31,311.41" fill="#ec62e8"/>
<polygon points="143.20,298.59 135.70,311.59 150.70,311.59" fill="#ec62e8"/>
<polygon points="145.58,298.41 138.08,311.41 153.08,311.41" fill="#ec62e8"/>
<polygon points="148.47,297.78 140.97,310.78 155.97,310.78" fill="#ec62e8"/>
<polygon points="153.50,296.22 146.00,309.22 161.00,309.22" fill="#ec62e8"/>
<polygon points="158.88,294.68 151.38,307.68 166.38,307.68" fill="#ec62e8"/>
<polygon points="164.49,293.93 156.99,306.93 171.99,306.93" fill="#ec62e8"/>
<polygon points="170.11,294.11 162.61,307.11 177.61,307.11" fill="#ec62e8"/>
<polygon points="175.55,294.65 168.05,307.65 183.05,307.65" fill="#ec62e8"/>
<polygon points="181.20,295.45 173.70,308.45 188.70,308.45" fill="#ec62e8"/>
<polygon points="186.00,296.82 178.50,309.82 193.50,309.82" fill="#ec62e8"/>
<polygon points="190.66,298.42 183.16,311.42 198.16,311.42" fill="#ec62e8"/>
<polygon points="194.94,299.76 187.44,312.76 202.44,312.76" fill="#ec62e8"/>
<polygon points="198.92,300.61 191.42,313.61 206.42,313.61" fill="#ec62e8"/>
<polygon points="203.14,301.00 195.64,314.00 210.64,314.00" fill="#ec62e8"/>
<polygon points="207.73,300.73 200.23,313.73 215.23,313.73" fill="#ec62e8"/>
<polygon points="212.29,299.54 204.79,312.54 219.79,312.54" fill="#ec62e8"/>
<polygon points="217.33,298.19 209.83,311.19 224.83,311.19" fill="#ec62e8"/>
<polygon points="223.15,296.01 215.65,309.01 230.65,309.01" fill="#ec62e8"/>
<polygon points="230.63,292.54 223.13,305.54 238.13,305.54" fill="#ec62e8"/>
<polygon points="238.80,288.16 231.30,301.16 246.30,301.16" fill="#ec62e8"/>
<polygon points="250.26,283.84 242.76,296.84 257.76,296.84" fill="#ec62e8"/>
<polygon points="262.10,280.90 254.60,293.90 269.60,293.90" fill="#ec62e8"/>
<polygon points="281.40,278.75 273.90,291.75 288.90,291.75" fill="#ec62e8"/>
</g>
<path d="M135.5,229.8 H251.3 V314.8" fill="none" stroke="#c4b4a4" stroke-width="1"/>
<rect x="135.5" y="13.6" width="403.5" height="301.2" fill="none" stroke="#000" stroke-width="2.1"/>
<line x1="129.5" y1="301.70" x2="135.5" y2="301.70" stroke="#000" stroke-width="2"/>
<line x1="124.5" y1="269.60" x2="135.5" y2="269.60" stroke="#000" stroke-width="2"/>
<line x1="129.5" y1="237.50" x2="135.5" y2="237.50" stroke="#000" stroke-width="2"/>
<line x1="124.5" y1="205.40" x2="135.5" y2="205.40" stroke="#000" stroke-width="2"/>
<line x1="129.5" y1="173.30" x2="135.5" y2="173.30" stroke="#000" stroke-width="2"/>
<line x1="124.5" y1="141.20" x2="135.5" y2="141.20" stroke="#000" stroke-width="2"/>
<line x1="129.5" y1="109.10" x2="135.5" y2="109.10" stroke="#000" stroke-width="2"/>
<line x1="124.5" y1="77.00" x2="135.5" y2="77.00" stroke="#000" stroke-width="2"/>
<line x1="129.5" y1="44.90" x2="135.5" y2="44.90" stroke="#000" stroke-width="2"/>
<line x1="124.5" y1="12.80" x2="135.5" y2="12.80" stroke="#000" stroke-width="2"/>
<text transform="translate(73.29,18.18) scale(0.9866,1)" font-size="15.30" font-weight="bold" xml:space="preserve">10,000</text>
<text transform="translate(81.90,82.28) scale(1.0905,1)" font-size="15.30" font-weight="bold" xml:space="preserve">8000</text>
<text transform="translate(81.90,147.03) scale(1.0905,1)" font-size="15.30" font-weight="bold" xml:space="preserve">6000</text>
<text transform="translate(82.23,211.03) scale(1.0793,1)" font-size="15.30" font-weight="bold" xml:space="preserve">4000</text>
<text transform="translate(81.73,275.13) scale(1.0961,1)" font-size="15.30" font-weight="bold" xml:space="preserve">2000</text>
<line x1="168.60" y1="314.8" x2="168.60" y2="320.3" stroke="#000" stroke-width="2"/>
<line x1="207.50" y1="314.8" x2="207.50" y2="325.3" stroke="#000" stroke-width="2"/>
<line x1="246.40" y1="314.8" x2="246.40" y2="320.3" stroke="#000" stroke-width="2"/>
<line x1="285.30" y1="314.8" x2="285.30" y2="325.3" stroke="#000" stroke-width="2"/>
<line x1="324.20" y1="314.8" x2="324.20" y2="320.3" stroke="#000" stroke-width="2"/>
<line x1="363.10" y1="314.8" x2="363.10" y2="325.3" stroke="#000" stroke-width="2"/>
<line x1="402.00" y1="314.8" x2="402.00" y2="320.3" stroke="#000" stroke-width="2"/>
<line x1="440.90" y1="314.8" x2="440.90" y2="325.3" stroke="#000" stroke-width="2"/>
<line x1="479.80" y1="314.8" x2="479.80" y2="320.3" stroke="#000" stroke-width="2"/>
<line x1="518.70" y1="314.8" x2="518.70" y2="325.3" stroke="#000" stroke-width="2"/>
<text transform="translate(191.34,345.53) scale(1.0726,1)" font-size="15.30" font-weight="bold" xml:space="preserve">4000</text>
<text transform="translate(269.61,345.53) scale(1.0667,1)" font-size="15.30" font-weight="bold" xml:space="preserve">8000</text>
<text transform="translate(343.19,345.53) scale(0.9916,1)" font-size="15.30" font-weight="bold" xml:space="preserve">12,000</text>
<text transform="translate(419.90,345.53) scale(0.9791,1)" font-size="15.30" font-weight="bold" xml:space="preserve">16,000</text>
<text transform="translate(497.60,345.53) scale(0.9767,1)" font-size="15.30" font-weight="bold" xml:space="preserve">20,000</text>
<text transform="translate(306.74,379.80) scale(1.1852,1)" font-size="19.50" font-weight="normal" xml:space="preserve">&#951;</text>
<path d="M321.00,368.10 Q322.50,366.50 324.00,368.10 L322.95,372.70 L322.05,372.70 Z" fill="#000"/>
<text transform="translate(329.43,380.30) scale(1.1899,1)" font-size="18.30" font-weight="bold" xml:space="preserve">(Pa)</text>
<text transform="translate(62.10,166.66) rotate(-90) scale(0.9160,1.0000)" font-size="20.80" font-weight="bold" xml:space="preserve">(Pa)</text>
<path d="M48.90,175.00 Q47.30,176.15 48.90,177.30 L54.20,176.60 L54.20,175.70 Z" fill="#000"/>
<path d="M48.90,179.40 Q47.30,180.60 48.90,181.80 L54.20,181.05 L54.20,180.15 Z" fill="#000"/>
<text transform="translate(61.80,195.40) rotate(-90) scale(0.9630,1.0000)" font-size="21.00" font-weight="normal" xml:space="preserve">&#951;</text>
<text transform="translate(7.48,40.60) scale(0.9792,1)" font-size="46.50" font-weight="normal" xml:space="preserve">(a)</text>
<rect x="147.3" y="19.8" width="200.7" height="78.6" fill="none" stroke="#000" stroke-width="2"/>
<line x1="149.5" y1="30.5" x2="185.8" y2="30.5" stroke="#6a6a6a" stroke-width="1.2"/>
<line x1="149.5" y1="49.5" x2="185.8" y2="49.5" stroke="#8fa8a8" stroke-width="1.2"/>
<line x1="149.5" y1="68.5" x2="185.8" y2="68.5" stroke="#bca69c" stroke-width="1.2"/>
<line x1="149.5" y1="87.6" x2="185.8" y2="87.6" stroke="#8c96c8" stroke-width="1.2"/>
<rect x="163.05" y="26.15" width="8.70" height="8.70" fill="#fff2f6" stroke="#9a3614" stroke-width="2.30"/><rect x="165.90" y="29.00" width="3" height="3" fill="#c0102a"/>
<polygon points="167.60,42.46 159.90,55.26 175.30,55.26" fill="#c028ee"/>
<circle cx="167.40" cy="68.50" r="6.60" fill="#1010e2"/>
<polygon points="167.40,79.70 175.30,87.60 167.40,95.50 159.50,87.60" fill="#2c5a6a"/><polygon points="167.40,81.42 173.07,88.40 161.73,88.40" fill="#217e86"/><polygon points="163.69,88.60 171.11,88.60 167.40,92.31" fill="#e2fcf8"/>
<text transform="translate(191.88,35.80) scale(1.0925,1)" font-size="14.50" font-weight="bold" xml:space="preserve">PLA/EVOH</text>
<text transform="translate(190.95,54.60) scale(1.1266,1)" font-size="14.50" font-weight="bold" xml:space="preserve">(PLA/EVOH)/0.25GO</text>
<text transform="translate(190.95,74.20) scale(1.1279,1)" font-size="14.50" font-weight="bold" xml:space="preserve">(PLA/EVOH)/0.5GO</text>
<text transform="translate(190.95,92.40) scale(1.1267,1)" font-size="14.50" font-weight="bold" xml:space="preserve">(PLA/EVOH)/1GO</text>
<clipPath id="cb"><rect x="135.2" y="404.2" width="405.4" height="297.1"/></clipPath>
<g clip-path="url(#cb)">
<path d="M140.00,667.00 C141.08,667.83 144.10,670.75 146.50,672.00 C148.90,673.25 151.57,674.08 154.40,674.50 C157.23,674.92 160.07,675.00 163.50,674.50 C166.93,674.00 170.98,672.70 175.00,671.50 C179.02,670.30 183.00,668.75 187.60,667.30 C192.20,665.85 197.83,664.32 202.60,662.80 C207.37,661.28 211.00,659.50 216.20,658.20 C221.40,656.90 228.12,656.05 233.80,655.00 C239.48,653.95 244.48,653.00 250.30,651.90 C256.12,650.80 262.77,649.53 268.70,648.40 C274.63,647.27 279.95,646.37 285.90,645.10 C291.85,643.83 298.10,642.27 304.40,640.80 C310.70,639.33 317.00,638.17 323.70,636.30 C330.40,634.43 337.48,631.80 344.60,629.60 C351.72,627.40 358.42,625.57 366.40,623.10 C374.38,620.63 383.42,618.02 392.50,614.80 C401.58,611.58 410.87,607.27 420.90,603.80 C430.93,600.33 441.13,598.10 452.70,594.00 C464.27,589.90 476.08,585.03 490.30,579.20 C504.52,573.37 530.05,562.37 538.00,559.00" fill="none" stroke="#6a6a6a" stroke-width="1"/>
<path d="M139.00,660.00 C139.87,661.25 142.28,665.75 144.20,667.50 C146.12,669.25 148.28,669.92 150.50,670.50 C152.72,671.08 155.17,671.00 157.50,671.00 C159.83,671.00 161.92,670.87 164.50,670.50 C167.08,670.13 169.12,669.75 173.00,668.80 C176.88,667.85 182.70,666.10 187.80,664.80 C192.90,663.50 198.22,661.90 203.60,661.00 C208.98,660.10 214.60,659.52 220.10,659.40 C225.60,659.28 231.18,659.83 236.60,660.30 C242.02,660.77 247.17,661.45 252.60,662.20 C258.03,662.95 264.08,663.68 269.20,664.80 C274.32,665.92 278.67,667.43 283.30,668.90 C287.93,670.37 292.62,672.15 297.00,673.60 C301.38,675.05 305.55,676.50 309.60,677.60 C313.65,678.70 317.28,679.53 321.30,680.20 C325.32,680.87 329.38,681.43 333.70,681.60 C338.02,681.77 342.72,681.75 347.20,681.20 C351.68,680.65 355.90,679.33 360.60,678.30 C365.30,677.27 370.08,676.47 375.40,675.00 C380.72,673.53 385.98,671.90 392.50,669.50 C399.02,667.10 406.83,663.97 414.50,660.60 C422.17,657.23 428.88,653.13 438.50,649.30 C448.12,645.47 460.78,640.88 472.20,637.60 C483.62,634.32 495.62,631.10 507.00,629.60 C518.38,628.10 534.92,628.77 540.50,628.60" fill="none" stroke="#8fa8a8" stroke-width="1"/>
<path d="M139.50,656.50 C140.50,657.33 143.38,660.33 145.50,661.50 C147.62,662.67 149.45,663.17 152.20,663.50 C154.95,663.83 158.08,664.17 162.00,663.50 C165.92,662.83 170.70,661.22 175.70,659.50 C180.70,657.78 186.05,655.52 192.00,653.20 C197.95,650.88 204.53,648.58 211.40,645.60 C218.27,642.62 225.37,638.68 233.20,635.30 C241.03,631.92 249.78,628.83 258.40,625.30 C267.02,621.77 275.65,617.85 284.90,614.10 C294.15,610.35 303.83,607.03 313.90,602.80 C323.97,598.57 334.80,593.65 345.30,588.70 C355.80,583.75 365.75,578.83 376.90,573.10 C388.05,567.37 399.90,561.17 412.20,554.30 C424.50,547.43 437.48,540.03 450.70,531.90 C463.92,523.77 476.82,515.20 491.50,505.50 C506.18,495.80 530.92,479.00 538.80,473.70" fill="none" stroke="#bca69c" stroke-width="1"/>
<path d="M140.70,643.90 C141.75,645.00 144.62,649.65 147.00,650.50 C149.38,651.35 151.95,650.37 155.00,649.00 C158.05,647.63 161.38,645.13 165.30,642.30 C169.22,639.47 173.82,635.78 178.50,632.00 C183.18,628.22 188.02,623.77 193.40,619.60 C198.78,615.43 204.65,611.42 210.80,607.00 C216.95,602.58 223.47,597.53 230.30,593.10 C237.13,588.67 244.47,584.67 251.80,580.40 C259.13,576.13 266.42,572.25 274.30,567.50 C282.18,562.75 290.68,557.18 299.10,551.90 C307.52,546.62 315.77,541.47 324.80,535.80 C333.83,530.13 343.35,524.63 353.30,517.90 C363.25,511.17 373.48,503.40 384.50,495.40 C395.52,487.40 406.87,479.02 419.40,469.90 C431.93,460.78 444.92,451.05 459.70,440.70 C474.48,430.35 497.55,415.00 508.10,407.80 C518.65,400.60 520.52,399.22 523.00,397.50" fill="none" stroke="#8c96c8" stroke-width="1"/>
<rect x="135.85" y="662.85" width="8.30" height="8.30" fill="#fff2f6" stroke="#9a3614" stroke-width="2.30"/><rect x="138.50" y="665.50" width="3" height="3" fill="#c0102a"/>
<rect x="142.35" y="667.85" width="8.30" height="8.30" fill="#fff2f6" stroke="#9a3614" stroke-width="2.30"/><rect x="145.00" y="670.50" width="3" height="3" fill="#c0102a"/>
<rect x="150.25" y="670.35" width="8.30" height="8.30" fill="#fff2f6" stroke="#9a3614" stroke-width="2.30"/><rect x="152.90" y="673.00" width="3" height="3" fill="#c0102a"/>
<rect x="159.35" y="670.35" width="8.30" height="8.30" fill="#fff2f6" stroke="#9a3614" stroke-width="2.30"/><rect x="162.00" y="673.00" width="3" height="3" fill="#c0102a"/>
<rect x="170.85" y="667.35" width="8.30" height="8.30" fill="#fff2f6" stroke="#9a3614" stroke-width="2.30"/><rect x="173.50" y="670.00" width="3" height="3" fill="#c0102a"/>
<rect x="183.45" y="663.15" width="8.30" height="8.30" fill="#fff2f6" stroke="#9a3614" stroke-width="2.30"/><rect x="186.10" y="665.80" width="3" height="3" fill="#c0102a"/>
<rect x="198.45" y="658.65" width="8.30" height="8.30" fill="#fff2f6" stroke="#9a3614" stroke-width="2.30"/><rect x="201.10" y="661.30" width="3" height="3" fill="#c0102a"/>
<rect x="212.05" y="654.05" width="8.30" height="8.30" fill="#fff2f6" stroke="#9a3614" stroke-width="2.30"/><rect x="214.70" y="656.70" width="3" height="3" fill="#c0102a"/>
<rect x="229.65" y="650.85" width="8.30" height="8.30" fill="#fff2f6" stroke="#9a3614" stroke-width="2.30"/><rect x="232.30" y="653.50" width="3" height="3" fill="#c0102a"/>
<rect x="246.15" y="647.75" width="8.30" height="8.30" fill="#fff2f6" stroke="#9a3614" stroke-width="2.30"/><rect x="248.80" y="650.40" width="3" height="3" fill="#c0102a"/>
<rect x="264.55" y="644.25" width="8.30" height="8.30" fill="#fff2f6" stroke="#9a3614" stroke-width="2.30"/><rect x="267.20" y="646.90" width="3" height="3" fill="#c0102a"/>
<rect x="281.75" y="640.95" width="8.30" height="8.30" fill="#fff2f6" stroke="#9a3614" stroke-width="2.30"/><rect x="284.40" y="643.60" width="3" height="3" fill="#c0102a"/>
<rect x="300.25" y="636.65" width="8.30" height="8.30" fill="#fff2f6" stroke="#9a3614" stroke-width="2.30"/><rect x="302.90" y="639.30" width="3" height="3" fill="#c0102a"/>
<rect x="319.55" y="632.15" width="8.30" height="8.30" fill="#fff2f6" stroke="#9a3614" stroke-width="2.30"/><rect x="322.20" y="634.80" width="3" height="3" fill="#c0102a"/>
<rect x="340.45" y="625.45" width="8.30" height="8.30" fill="#fff2f6" stroke="#9a3614" stroke-width="2.30"/><rect x="343.10" y="628.10" width="3" height="3" fill="#c0102a"/>
<rect x="362.25" y="618.95" width="8.30" height="8.30" fill="#fff2f6" stroke="#9a3614" stroke-width="2.30"/><rect x="364.90" y="621.60" width="3" height="3" fill="#c0102a"/>
<rect x="388.35" y="610.65" width="8.30" height="8.30" fill="#fff2f6" stroke="#9a3614" stroke-width="2.30"/><rect x="391.00" y="613.30" width="3" height="3" fill="#c0102a"/>
<rect x="416.75" y="599.65" width="8.30" height="8.30" fill="#fff2f6" stroke="#9a3614" stroke-width="2.30"/><rect x="419.40" y="602.30" width="3" height="3" fill="#c0102a"/>
<rect x="448.55" y="589.85" width="8.30" height="8.30" fill="#fff2f6" stroke="#9a3614" stroke-width="2.30"/><rect x="451.20" y="592.50" width="3" height="3" fill="#c0102a"/>
<rect x="486.15" y="575.05" width="8.30" height="8.30" fill="#fff2f6" stroke="#9a3614" stroke-width="2.30"/><rect x="488.80" y="577.70" width="3" height="3" fill="#c0102a"/>
<rect x="533.85" y="554.85" width="8.30" height="8.30" fill="#fff2f6" stroke="#9a3614" stroke-width="2.30"/><rect x="536.50" y="557.50" width="3" height="3" fill="#c0102a"/>
<polygon points="139.50,649.80 146.20,656.50 139.50,663.20 132.80,656.50" fill="#2c5a6a"/><polygon points="139.50,651.36 144.10,657.30 134.90,657.30" fill="#217e86"/><polygon points="136.35,657.50 142.65,657.50 139.50,660.65" fill="#e2fcf8"/>
<polygon points="145.50,654.80 152.20,661.50 145.50,668.20 138.80,661.50" fill="#2c5a6a"/><polygon points="145.50,656.36 150.10,662.30 140.90,662.30" fill="#217e86"/><polygon points="142.35,662.50 148.65,662.50 145.50,665.65" fill="#e2fcf8"/>
<polygon points="152.20,656.80 158.90,663.50 152.20,670.20 145.50,663.50" fill="#2c5a6a"/><polygon points="152.20,658.36 156.80,664.30 147.60,664.30" fill="#217e86"/><polygon points="149.05,664.50 155.35,664.50 152.20,667.65" fill="#e2fcf8"/>
<polygon points="162.00,656.80 168.70,663.50 162.00,670.20 155.30,663.50" fill="#2c5a6a"/><polygon points="162.00,658.36 166.60,664.30 157.40,664.30" fill="#217e86"/><polygon points="158.85,664.50 165.15,664.50 162.00,667.65" fill="#e2fcf8"/>
<polygon points="175.70,652.80 182.40,659.50 175.70,666.20 169.00,659.50" fill="#2c5a6a"/><polygon points="175.70,654.36 180.30,660.30 171.10,660.30" fill="#217e86"/><polygon points="172.55,660.50 178.85,660.50 175.70,663.65" fill="#e2fcf8"/>
<polygon points="192.00,646.50 198.70,653.20 192.00,659.90 185.30,653.20" fill="#2c5a6a"/><polygon points="192.00,648.06 196.60,654.00 187.40,654.00" fill="#217e86"/><polygon points="188.85,654.20 195.15,654.20 192.00,657.35" fill="#e2fcf8"/>
<polygon points="211.40,638.90 218.10,645.60 211.40,652.30 204.70,645.60" fill="#2c5a6a"/><polygon points="211.40,640.46 216.00,646.40 206.80,646.40" fill="#217e86"/><polygon points="208.25,646.60 214.55,646.60 211.40,649.75" fill="#e2fcf8"/>
<polygon points="233.20,628.60 239.90,635.30 233.20,642.00 226.50,635.30" fill="#2c5a6a"/><polygon points="233.20,630.16 237.80,636.10 228.60,636.10" fill="#217e86"/><polygon points="230.05,636.30 236.35,636.30 233.20,639.45" fill="#e2fcf8"/>
<polygon points="258.40,618.60 265.10,625.30 258.40,632.00 251.70,625.30" fill="#2c5a6a"/><polygon points="258.40,620.16 263.00,626.10 253.80,626.10" fill="#217e86"/><polygon points="255.25,626.30 261.55,626.30 258.40,629.45" fill="#e2fcf8"/>
<polygon points="284.90,607.40 291.60,614.10 284.90,620.80 278.20,614.10" fill="#2c5a6a"/><polygon points="284.90,608.96 289.50,614.90 280.30,614.90" fill="#217e86"/><polygon points="281.75,615.10 288.05,615.10 284.90,618.25" fill="#e2fcf8"/>
<polygon points="313.90,596.10 320.60,602.80 313.90,609.50 307.20,602.80" fill="#2c5a6a"/><polygon points="313.90,597.66 318.50,603.60 309.30,603.60" fill="#217e86"/><polygon points="310.75,603.80 317.05,603.80 313.90,606.95" fill="#e2fcf8"/>
<polygon points="345.30,582.00 352.00,588.70 345.30,595.40 338.60,588.70" fill="#2c5a6a"/><polygon points="345.30,583.56 349.90,589.50 340.70,589.50" fill="#217e86"/><polygon points="342.15,589.70 348.45,589.70 345.30,592.85" fill="#e2fcf8"/>
<polygon points="376.90,566.40 383.60,573.10 376.90,579.80 370.20,573.10" fill="#2c5a6a"/><polygon points="376.90,567.96 381.50,573.90 372.30,573.90" fill="#217e86"/><polygon points="373.75,574.10 380.05,574.10 376.90,577.25" fill="#e2fcf8"/>
<polygon points="412.20,547.60 418.90,554.30 412.20,561.00 405.50,554.30" fill="#2c5a6a"/><polygon points="412.20,549.16 416.80,555.10 407.60,555.10" fill="#217e86"/><polygon points="409.05,555.30 415.35,555.30 412.20,558.45" fill="#e2fcf8"/>
<polygon points="450.70,525.20 457.40,531.90 450.70,538.60 444.00,531.90" fill="#2c5a6a"/><polygon points="450.70,526.76 455.30,532.70 446.10,532.70" fill="#217e86"/><polygon points="447.55,532.90 453.85,532.90 450.70,536.05" fill="#e2fcf8"/>
<polygon points="491.50,498.80 498.20,505.50 491.50,512.20 484.80,505.50" fill="#2c5a6a"/><polygon points="491.50,500.36 496.10,506.30 486.90,506.30" fill="#217e86"/><polygon points="488.35,506.50 494.65,506.50 491.50,509.65" fill="#e2fcf8"/>
<polygon points="538.80,467.00 545.50,473.70 538.80,480.40 532.10,473.70" fill="#2c5a6a"/><polygon points="538.80,468.56 543.40,474.50 534.20,474.50" fill="#217e86"/><polygon points="535.65,474.70 541.95,474.70 538.80,477.85" fill="#e2fcf8"/>
<circle cx="140.70" cy="643.90" r="5.20" fill="#1010e2"/>
<circle cx="147.00" cy="650.50" r="5.20" fill="#1010e2"/>
<circle cx="155.00" cy="649.00" r="5.20" fill="#1010e2"/>
<circle cx="165.30" cy="642.30" r="5.20" fill="#1010e2"/>
<circle cx="178.50" cy="632.00" r="5.20" fill="#1010e2"/>
<circle cx="193.40" cy="619.60" r="5.20" fill="#1010e2"/>
<circle cx="210.80" cy="607.00" r="5.20" fill="#1010e2"/>
<circle cx="230.30" cy="593.10" r="5.20" fill="#1010e2"/>
<circle cx="251.80" cy="580.40" r="5.20" fill="#1010e2"/>
<circle cx="274.30" cy="567.50" r="5.20" fill="#1010e2"/>
<circle cx="299.10" cy="551.90" r="5.20" fill="#1010e2"/>
<circle cx="324.80" cy="535.80" r="5.20" fill="#1010e2"/>
<circle cx="353.30" cy="517.90" r="5.20" fill="#1010e2"/>
<circle cx="384.50" cy="495.40" r="5.20" fill="#1010e2"/>
<circle cx="419.40" cy="469.90" r="5.20" fill="#1010e2"/>
<circle cx="459.70" cy="440.70" r="5.20" fill="#1010e2"/>
<circle cx="508.10" cy="407.80" r="5.20" fill="#1010e2"/>
<polygon points="139.00,653.12 131.75,665.62 146.25,665.62" fill="#c028ee"/>
<polygon points="144.20,660.62 136.95,673.12 151.45,673.12" fill="#c028ee"/>
<polygon points="150.50,663.62 143.25,676.12 157.75,676.12" fill="#c028ee"/>
<polygon points="157.50,664.12 150.25,676.62 164.75,676.62" fill="#c028ee"/>
<polygon points="164.50,663.62 157.25,676.12 171.75,676.12" fill="#c028ee"/>
<polygon points="173.00,661.92 165.75,674.42 180.25,674.42" fill="#c028ee"/>
<polygon points="187.80,657.92 180.55,670.42 195.05,670.42" fill="#c028ee"/>
<polygon points="203.60,654.12 196.35,666.62 210.85,666.62" fill="#c028ee"/>
<polygon points="220.10,652.52 212.85,665.02 227.35,665.02" fill="#c028ee"/>
<polygon points="236.60,653.42 229.35,665.92 243.85,665.92" fill="#c028ee"/>
<polygon points="252.60,655.33 245.35,667.83 259.85,667.83" fill="#c028ee"/>
<polygon points="269.20,657.92 261.95,670.42 276.45,670.42" fill="#c028ee"/>
<polygon points="283.30,662.02 276.05,674.52 290.55,674.52" fill="#c028ee"/>
<polygon points="297.00,666.73 289.75,679.23 304.25,679.23" fill="#c028ee"/>
<polygon points="309.60,670.73 302.35,683.23 316.85,683.23" fill="#c028ee"/>
<polygon points="321.30,673.33 314.05,685.83 328.55,685.83" fill="#c028ee"/>
<polygon points="333.70,674.73 326.45,687.23 340.95,687.23" fill="#c028ee"/>
<polygon points="347.20,674.33 339.95,686.83 354.45,686.83" fill="#c028ee"/>
<polygon points="360.60,671.42 353.35,683.92 367.85,683.92" fill="#c028ee"/>
<polygon points="375.40,668.12 368.15,680.62 382.65,680.62" fill="#c028ee"/>
<polygon points="392.50,662.62 385.25,675.12 399.75,675.12" fill="#c028ee"/>
<polygon points="414.50,653.73 407.25,666.23 421.75,666.23" fill="#c028ee"/>
<polygon points="438.50,642.42 431.25,654.92 445.75,654.92" fill="#c028ee"/>
<polygon points="472.20,630.73 464.95,643.23 479.45,643.23" fill="#c028ee"/>
<polygon points="507.00,622.73 499.75,635.23 514.25,635.23" fill="#c028ee"/>
</g>
<rect x="135.2" y="404.2" width="405.4" height="297.1" fill="none" stroke="#000" stroke-width="2.1"/>
<line x1="129.2" y1="688.67" x2="135.2" y2="688.67" stroke="#000" stroke-width="2"/>
<line x1="124.2" y1="666.80" x2="135.2" y2="666.80" stroke="#000" stroke-width="2"/>
<line x1="129.2" y1="644.92" x2="135.2" y2="644.92" stroke="#000" stroke-width="2"/>
<line x1="124.2" y1="623.05" x2="135.2" y2="623.05" stroke="#000" stroke-width="2"/>
<line x1="129.2" y1="601.17" x2="135.2" y2="601.17" stroke="#000" stroke-width="2"/>
<line x1="124.2" y1="579.30" x2="135.2" y2="579.30" stroke="#000" stroke-width="2"/>
<line x1="129.2" y1="557.42" x2="135.2" y2="557.42" stroke="#000" stroke-width="2"/>
<line x1="124.2" y1="535.55" x2="135.2" y2="535.55" stroke="#000" stroke-width="2"/>
<line x1="129.2" y1="513.67" x2="135.2" y2="513.67" stroke="#000" stroke-width="2"/>
<line x1="124.2" y1="491.80" x2="135.2" y2="491.80" stroke="#000" stroke-width="2"/>
<line x1="129.2" y1="469.93" x2="135.2" y2="469.93" stroke="#000" stroke-width="2"/>
<line x1="124.2" y1="448.05" x2="135.2" y2="448.05" stroke="#000" stroke-width="2"/>
<line x1="129.2" y1="426.18" x2="135.2" y2="426.18" stroke="#000" stroke-width="2"/>
<line x1="124.2" y1="404.30" x2="135.2" y2="404.30" stroke="#000" stroke-width="2"/>
<text transform="translate(84.74,408.33) scale(1.0357,1)" font-size="15.30" font-weight="bold" xml:space="preserve">4000</text>
<text transform="translate(84.46,451.93) scale(1.0451,1)" font-size="15.30" font-weight="bold" xml:space="preserve">3500</text>
<text transform="translate(84.36,496.63) scale(1.0485,1)" font-size="15.30" font-weight="bold" xml:space="preserve">3000</text>
<text transform="translate(84.36,540.33) scale(1.0485,1)" font-size="15.30" font-weight="bold" xml:space="preserve">2500</text>
<text transform="translate(84.36,584.03) scale(1.0485,1)" font-size="15.30" font-weight="bold" xml:space="preserve">2000</text>
<text transform="translate(85.46,628.33) scale(1.0117,1)" font-size="15.30" font-weight="bold" xml:space="preserve">1500</text>
<text transform="translate(84.73,671.33) scale(1.0360,1)" font-size="15.30" font-weight="bold" xml:space="preserve">1000</text>
<line x1="146.41" y1="701.3" x2="146.41" y2="706.8" stroke="#000" stroke-width="2"/>
<line x1="175.00" y1="701.3" x2="175.00" y2="711.8" stroke="#000" stroke-width="2"/>
<line x1="203.59" y1="701.3" x2="203.59" y2="706.8" stroke="#000" stroke-width="2"/>
<line x1="232.17" y1="701.3" x2="232.17" y2="711.8" stroke="#000" stroke-width="2"/>
<line x1="260.75" y1="701.3" x2="260.75" y2="706.8" stroke="#000" stroke-width="2"/>
<line x1="289.34" y1="701.3" x2="289.34" y2="711.8" stroke="#000" stroke-width="2"/>
<line x1="317.92" y1="701.3" x2="317.92" y2="706.8" stroke="#000" stroke-width="2"/>
<line x1="346.51" y1="701.3" x2="346.51" y2="711.8" stroke="#000" stroke-width="2"/>
<line x1="375.10" y1="701.3" x2="375.10" y2="706.8" stroke="#000" stroke-width="2"/>
<line x1="403.68" y1="701.3" x2="403.68" y2="711.8" stroke="#000" stroke-width="2"/>
<line x1="432.26" y1="701.3" x2="432.26" y2="706.8" stroke="#000" stroke-width="2"/>
<line x1="460.85" y1="701.3" x2="460.85" y2="711.8" stroke="#000" stroke-width="2"/>
<line x1="489.44" y1="701.3" x2="489.44" y2="706.8" stroke="#000" stroke-width="2"/>
<line x1="518.02" y1="701.3" x2="518.02" y2="711.8" stroke="#000" stroke-width="2"/>
<text transform="translate(158.71,732.63) scale(1.0569,1)" font-size="15.30" font-weight="bold" xml:space="preserve">1000</text>
<text transform="translate(216.23,732.63) scale(1.0417,1)" font-size="15.30" font-weight="bold" xml:space="preserve">2000</text>
<text transform="translate(273.40,732.63) scale(1.0417,1)" font-size="15.30" font-weight="bold" xml:space="preserve">3000</text>
<text transform="translate(331.05,732.63) scale(1.0256,1)" font-size="15.30" font-weight="bold" xml:space="preserve">4000</text>
<text transform="translate(387.74,732.63) scale(1.0417,1)" font-size="15.30" font-weight="bold" xml:space="preserve">5000</text>
<text transform="translate(445.07,732.63) scale(1.0363,1)" font-size="15.30" font-weight="bold" xml:space="preserve">6000</text>
<text transform="translate(501.75,732.63) scale(1.0526,1)" font-size="15.30" font-weight="bold" xml:space="preserve">7000</text>
<text transform="translate(313.54,764.20) scale(1.1389,1)" font-size="16.00" font-weight="normal" xml:space="preserve">&#951;</text>
<path d="M324.30,754.20 Q325.65,752.60 327.00,754.20 L326.10,758.10 L325.20,758.10 Z" fill="#000"/>
<text transform="translate(332.41,764.20) scale(1.1332,1)" font-size="15.30" font-weight="bold" xml:space="preserve">(Pa)</text>
<text transform="translate(74.90,555.29) rotate(-90) scale(0.9977,1.0000)" font-size="17.20" font-weight="bold" xml:space="preserve">(Pa)</text>
<path d="M63.90,562.00 Q62.30,563.05 63.90,564.10 L67.90,563.50 L67.90,562.60 Z" fill="#000"/>
<path d="M63.90,565.90 Q62.30,566.95 63.90,568.00 L67.90,567.40 L67.90,566.50 Z" fill="#000"/>
<text transform="translate(74.40,579.12) rotate(-90) scale(0.9091,1.0000)" font-size="17.60" font-weight="normal" xml:space="preserve">&#951;</text>
<text transform="translate(8.07,410.50) scale(0.9857,1)" font-size="46.50" font-weight="normal" xml:space="preserve">(b)</text>
<rect x="142.6" y="410.8" width="195.4" height="82.1" fill="none" stroke="#000" stroke-width="2"/>
<line x1="144.7" y1="422.2" x2="180.0" y2="422.2" stroke="#6a6a6a" stroke-width="1.2"/>
<line x1="144.7" y1="441.5" x2="180.0" y2="441.5" stroke="#8fa8a8" stroke-width="1.2"/>
<line x1="144.7" y1="462.1" x2="180.0" y2="462.1" stroke="#bca69c" stroke-width="1.2"/>
<line x1="144.7" y1="482.0" x2="180.0" y2="482.0" stroke="#8c96c8" stroke-width="1.2"/>
<rect x="158.15" y="418.05" width="8.30" height="8.30" fill="#fff2f6" stroke="#9a3614" stroke-width="2.30"/><rect x="160.80" y="420.70" width="3" height="3" fill="#c0102a"/>
<polygon points="162.30,434.46 154.90,447.26 169.70,447.26" fill="#c028ee"/>
<polygon points="162.30,455.70 168.70,462.10 162.30,468.50 155.90,462.10" fill="#2c5a6a"/><polygon points="162.30,457.26 166.60,462.90 158.00,462.90" fill="#217e86"/><polygon points="159.29,463.10 165.31,463.10 162.30,466.11" fill="#e2fcf8"/>
<circle cx="162.30" cy="482.00" r="5.10" fill="#1010e2"/>
<text transform="translate(185.59,427.00) scale(1.0685,1)" font-size="14.50" font-weight="bold" xml:space="preserve">PLA/EVOH</text>
<text transform="translate(184.66,447.40) scale(1.0971,1)" font-size="14.50" font-weight="bold" xml:space="preserve">(PLA/EVOH)/0.25GO</text>
<text transform="translate(184.66,467.10) scale(1.0991,1)" font-size="14.50" font-weight="bold" xml:space="preserve">(PLA/EVOH)/0.5GO</text>
<text transform="translate(184.66,486.90) scale(1.1021,1)" font-size="14.50" font-weight="bold" xml:space="preserve">(PLA/EVOH)/1GO</text>
</svg>
</body></html>
